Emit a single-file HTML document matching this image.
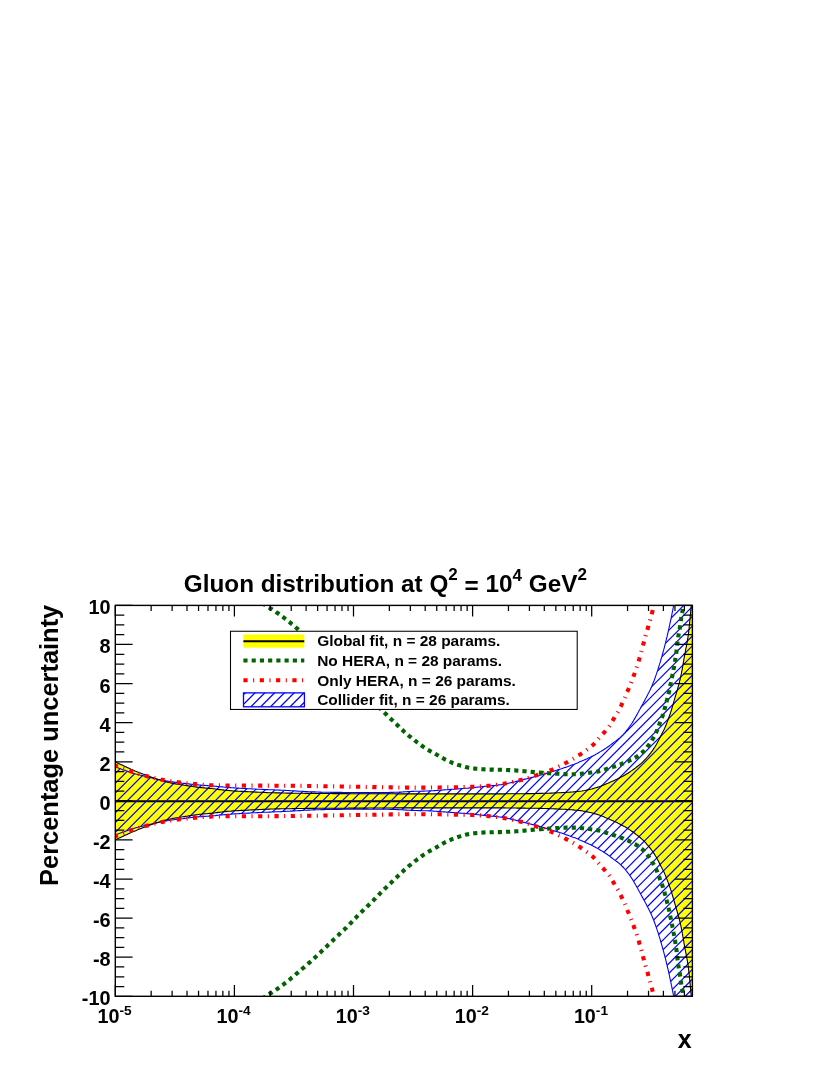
<!DOCTYPE html>
<html><head><meta charset="utf-8"><title>Gluon distribution</title>
<style>html,body{margin:0;padding:0;background:#fff}body{width:830px;height:1075px;position:relative;overflow:hidden;font-family:"Liberation Sans",sans-serif}</style></head>
<body>
<svg width="830" height="1075" viewBox="0 0 830 1075" style="position:absolute;left:0;top:0;will-change:transform">
<defs>
<clipPath id="fr"><rect x="115.3" y="605.4" width="577.1" height="390.9"/></clipPath>
<clipPath id="bl" clip-path="url(#fr)"><path d="M115.4,766.9 L116.7,767.4 L117.9,767.8 L119.2,768.3 L120.5,768.7 L121.7,769.2 L123.0,769.7 L124.3,770.1 L125.5,770.6 L126.8,771.0 L128.1,771.5 L129.3,772.0 L130.6,772.4 L131.9,772.8 L133.2,773.2 L134.4,773.6 L135.7,774.0 L137.0,774.3 L138.3,774.6 L139.7,775.0 L141.0,775.3 L142.3,775.6 L143.6,775.9 L144.9,776.2 L146.2,776.5 L147.5,776.8 L148.8,777.2 L150.1,777.5 L151.4,777.8 L152.8,778.1 L154.1,778.4 L155.4,778.7 L156.7,779.0 L158.0,779.3 L159.3,779.5 L160.6,779.8 L162.0,780.1 L163.3,780.4 L164.6,780.6 L165.9,780.9 L167.3,781.1 L168.6,781.3 L169.9,781.6 L171.2,781.8 L172.6,781.9 L173.9,782.1 L175.2,782.3 L176.6,782.4 L177.9,782.6 L179.3,782.7 L180.6,782.9 L181.9,783.1 L183.3,783.2 L184.6,783.4 L185.9,783.6 L187.3,783.8 L188.6,783.9 L189.9,784.1 L191.3,784.3 L192.6,784.4 L194.0,784.6 L195.3,784.7 L196.6,784.8 L198.0,784.9 L199.3,785.0 L200.7,785.1 L202.0,785.2 L203.3,785.3 L204.7,785.4 L206.0,785.5 L207.4,785.6 L208.7,785.7 L210.1,785.8 L211.4,785.9 L212.8,786.0 L214.1,786.1 L215.4,786.2 L216.8,786.4 L218.1,786.5 L219.4,786.6 L220.8,786.8 L222.1,786.9 L223.5,787.0 L224.8,787.2 L226.2,787.3 L227.5,787.4 L228.8,787.5 L230.2,787.6 L231.5,787.7 L232.9,787.8 L234.2,787.9 L235.6,788.0 L236.9,788.1 L238.2,788.1 L239.6,788.2 L240.9,788.3 L242.3,788.4 L243.6,788.5 L245.0,788.5 L246.3,788.6 L247.6,788.7 L249.0,788.7 L250.3,788.8 L251.7,788.9 L253.0,789.0 L254.4,789.0 L255.7,789.1 L257.1,789.2 L258.4,789.2 L259.7,789.3 L261.1,789.3 L262.4,789.4 L263.8,789.5 L265.1,789.5 L266.5,789.6 L267.8,789.6 L269.2,789.7 L270.5,789.7 L271.9,789.8 L273.2,789.8 L274.5,789.9 L275.9,790.0 L277.2,790.0 L278.6,790.1 L279.9,790.1 L281.3,790.2 L282.6,790.3 L284.0,790.3 L285.3,790.4 L286.6,790.5 L288.0,790.5 L289.3,790.6 L290.7,790.7 L292.0,790.7 L293.4,790.8 L294.7,790.9 L296.1,791.0 L297.4,791.1 L298.7,791.2 L300.1,791.2 L301.4,791.3 L302.8,791.4 L304.1,791.5 L305.5,791.6 L306.8,791.6 L308.2,791.7 L309.5,791.7 L310.8,791.8 L312.2,791.8 L313.5,791.9 L314.9,791.9 L316.2,792.0 L317.6,792.0 L318.9,792.1 L320.3,792.1 L321.6,792.2 L323.0,792.2 L324.3,792.2 L325.6,792.3 L327.0,792.3 L328.3,792.3 L329.7,792.3 L331.0,792.3 L332.4,792.4 L333.7,792.4 L335.1,792.4 L336.4,792.4 L337.8,792.4 L339.1,792.4 L340.5,792.4 L341.8,792.4 L343.1,792.5 L344.5,792.5 L345.8,792.5 L347.2,792.5 L348.5,792.5 L349.9,792.5 L351.2,792.5 L352.6,792.5 L353.9,792.5 L355.3,792.5 L356.6,792.5 L358.0,792.5 L359.3,792.5 L360.7,792.6 L362.0,792.6 L363.3,792.6 L364.7,792.6 L366.0,792.6 L367.4,792.6 L368.7,792.6 L370.1,792.6 L371.4,792.6 L372.8,792.6 L374.1,792.6 L375.5,792.6 L376.8,792.6 L378.2,792.6 L379.5,792.6 L380.8,792.6 L382.2,792.6 L383.5,792.6 L384.9,792.6 L386.2,792.5 L387.6,792.5 L388.9,792.5 L390.3,792.4 L391.6,792.4 L393.0,792.4 L394.3,792.3 L395.7,792.3 L397.0,792.2 L398.3,792.2 L399.7,792.1 L401.0,792.1 L402.4,792.0 L403.7,791.9 L405.1,791.8 L406.4,791.7 L407.8,791.6 L409.1,791.5 L410.4,791.5 L411.8,791.4 L413.1,791.4 L414.5,791.3 L415.8,791.3 L417.2,791.3 L418.5,791.2 L419.9,791.2 L421.2,791.2 L422.6,791.1 L423.9,791.1 L425.2,791.0 L426.6,791.0 L427.9,791.0 L429.3,790.9 L430.6,790.8 L432.0,790.8 L433.3,790.7 L434.7,790.6 L436.0,790.5 L437.3,790.4 L438.7,790.3 L440.0,790.2 L441.4,790.1 L442.7,790.0 L444.1,789.9 L445.4,789.8 L446.7,789.7 L448.1,789.6 L449.4,789.5 L450.8,789.4 L452.1,789.3 L453.5,789.2 L454.8,789.1 L456.1,789.0 L457.5,788.9 L458.8,788.8 L460.2,788.7 L461.5,788.6 L462.9,788.5 L464.2,788.4 L465.5,788.3 L466.9,788.2 L468.2,788.1 L469.6,787.9 L470.9,787.8 L472.2,787.7 L473.6,787.5 L474.9,787.4 L476.3,787.3 L477.6,787.1 L478.9,787.0 L480.3,786.8 L481.6,786.7 L482.9,786.5 L484.3,786.4 L485.6,786.2 L487.0,786.1 L488.3,786.0 L489.6,785.8 L491.0,785.7 L492.3,785.6 L493.7,785.5 L495.0,785.4 L496.4,785.2 L497.7,785.1 L499.0,784.9 L500.4,784.8 L501.7,784.6 L503.0,784.3 L504.3,784.1 L505.7,783.9 L507.0,783.6 L508.3,783.3 L509.6,783.0 L510.9,782.7 L512.2,782.4 L513.5,782.1 L514.9,781.8 L516.2,781.4 L517.5,781.1 L518.8,780.7 L520.1,780.4 L521.4,780.1 L522.7,779.7 L524.0,779.4 L525.3,779.1 L526.6,778.8 L527.9,778.4 L529.2,778.1 L530.5,777.8 L531.8,777.4 L533.1,777.1 L534.4,776.7 L535.7,776.4 L537.0,776.0 L538.3,775.7 L539.6,775.3 L540.9,774.9 L542.2,774.6 L543.5,774.2 L544.8,773.8 L546.1,773.4 L547.4,773.0 L548.7,772.7 L550.0,772.3 L551.3,771.9 L552.5,771.5 L553.8,771.1 L555.1,770.7 L556.4,770.3 L557.7,769.9 L559.0,769.5 L560.3,769.1 L561.5,768.7 L562.8,768.2 L564.1,767.8 L565.4,767.4 L566.6,766.9 L567.9,766.5 L569.2,766.0 L570.4,765.6 L571.7,765.1 L573.0,764.6 L574.2,764.2 L575.5,763.7 L576.7,763.2 L578.0,762.7 L579.2,762.1 L580.4,761.6 L581.7,761.1 L582.9,760.5 L584.1,760.0 L585.4,759.4 L586.6,758.9 L587.8,758.3 L589.0,757.7 L590.3,757.2 L591.5,756.6 L592.7,756.0 L593.9,755.4 L595.1,754.8 L596.3,754.1 L597.4,753.4 L598.6,752.7 L599.7,752.1 L600.9,751.4 L602.0,750.7 L603.2,750.0 L604.3,749.2 L605.5,748.5 L606.6,747.8 L607.7,747.0 L608.8,746.2 L609.9,745.4 L610.9,744.6 L612.0,743.8 L613.1,742.9 L614.2,742.1 L615.3,741.4 L616.3,740.6 L617.4,739.8 L618.5,738.9 L619.5,738.1 L620.5,737.2 L621.5,736.2 L622.4,735.3 L623.4,734.3 L624.3,733.3 L625.2,732.3 L626.0,731.3 L626.9,730.2 L627.7,729.2 L628.5,728.1 L629.3,727.0 L630.1,725.9 L630.9,724.8 L631.6,723.7 L632.4,722.6 L633.1,721.4 L633.7,720.3 L634.4,719.1 L635.1,717.9 L635.7,716.7 L636.4,715.6 L637.1,714.4 L637.7,713.2 L638.4,712.0 L639.0,710.8 L639.6,709.7 L640.3,708.5 L640.9,707.3 L641.6,706.1 L642.2,704.9 L642.9,703.7 L643.5,702.6 L644.2,701.4 L644.8,700.2 L645.4,699.0 L646.1,697.8 L646.7,696.6 L647.3,695.4 L647.9,694.2 L648.6,693.0 L649.2,691.8 L649.8,690.6 L650.4,689.4 L650.9,688.2 L651.5,687.0 L652.0,685.7 L652.5,684.5 L653.0,683.3 L653.5,682.0 L654.0,680.8 L654.5,679.5 L654.9,678.2 L655.4,677.0 L655.8,675.7 L656.3,674.4 L656.7,673.2 L657.1,671.9 L657.6,670.6 L658.0,669.3 L658.4,668.0 L658.8,666.7 L659.2,665.4 L659.6,664.2 L660.0,662.9 L660.4,661.6 L660.7,660.3 L661.1,659.0 L661.5,657.7 L661.9,656.4 L662.2,655.1 L662.6,653.8 L663.0,652.5 L663.3,651.2 L663.7,649.9 L664.0,648.6 L664.4,647.3 L664.7,646.0 L665.0,644.7 L665.4,643.4 L665.7,642.1 L666.0,640.8 L666.3,639.5 L666.6,638.2 L667.0,636.9 L667.3,635.5 L667.6,634.2 L667.9,632.9 L668.2,631.6 L668.5,630.3 L668.8,629.0 L669.1,627.7 L669.4,626.4 L669.7,625.0 L669.9,623.7 L670.2,622.4 L670.5,621.1 L670.8,619.8 L671.1,618.5 L671.3,617.1 L671.6,615.8 L671.9,614.5 L672.1,613.2 L672.4,611.9 L672.7,610.5 L672.9,609.2 L673.2,607.9 L673.4,606.6 L673.7,605.3 L674.0,603.9 L674.2,602.6 L674.5,601.3 L674.7,600.0 L675.0,598.6 L675.2,597.3 L675.5,596.0 L705.0,590.0 L705.0,1012.0 L675.5,1005.8 L675.2,1004.5 L675.0,1003.2 L674.7,1001.8 L674.5,1000.5 L674.2,999.2 L674.0,997.9 L673.7,996.5 L673.4,995.2 L673.2,993.9 L672.9,992.6 L672.7,991.3 L672.4,989.9 L672.1,988.6 L671.9,987.3 L671.6,986.0 L671.3,984.7 L671.1,983.3 L670.8,982.0 L670.5,980.7 L670.2,979.4 L669.9,978.1 L669.7,976.8 L669.4,975.4 L669.1,974.1 L668.8,972.8 L668.5,971.5 L668.2,970.2 L667.9,968.9 L667.6,967.6 L667.3,966.3 L667.0,964.9 L666.6,963.6 L666.3,962.3 L666.0,961.0 L665.7,959.7 L665.4,958.4 L665.0,957.1 L664.7,955.8 L664.4,954.5 L664.0,953.2 L663.7,951.9 L663.3,950.6 L663.0,949.3 L662.6,948.0 L662.2,946.7 L661.9,945.4 L661.5,944.1 L661.1,942.8 L660.7,941.5 L660.4,940.2 L660.0,938.9 L659.6,937.6 L659.2,936.4 L658.8,935.1 L658.4,933.8 L658.0,932.5 L657.6,931.2 L657.1,929.9 L656.7,928.6 L656.3,927.4 L655.8,926.1 L655.4,924.8 L654.9,923.6 L654.5,922.3 L654.0,921.0 L653.5,919.8 L653.0,918.5 L652.5,917.3 L652.0,916.1 L651.5,914.8 L650.9,913.6 L650.4,912.4 L649.8,911.2 L649.2,910.0 L648.6,908.8 L647.9,907.6 L647.3,906.4 L646.7,905.2 L646.1,904.0 L645.4,902.8 L644.8,901.6 L644.2,900.4 L643.5,899.2 L642.9,898.1 L642.2,896.9 L641.6,895.7 L640.9,894.5 L640.3,893.3 L639.6,892.1 L639.0,891.0 L638.4,889.8 L637.7,888.6 L637.1,887.4 L636.4,886.2 L635.7,885.1 L635.1,883.9 L634.4,882.7 L633.7,881.5 L633.1,880.4 L632.4,879.2 L631.6,878.1 L630.9,877.0 L630.1,875.9 L629.3,874.8 L628.5,873.7 L627.7,872.6 L626.9,871.6 L626.0,870.5 L625.2,869.5 L624.3,868.5 L623.4,867.5 L622.4,866.5 L621.5,865.6 L620.5,864.6 L619.5,863.7 L618.5,862.9 L617.4,862.0 L616.3,861.2 L615.3,860.4 L614.2,859.7 L613.1,858.9 L612.0,858.0 L610.9,857.2 L609.9,856.4 L608.8,855.6 L607.7,854.8 L606.6,854.0 L605.5,853.3 L604.3,852.6 L603.2,851.8 L602.0,851.1 L600.9,850.4 L599.7,849.7 L598.6,849.1 L597.4,848.4 L596.3,847.7 L595.1,847.0 L593.9,846.4 L592.7,845.8 L591.5,845.2 L590.3,844.6 L589.0,844.1 L587.8,843.5 L586.6,842.9 L585.4,842.4 L584.1,841.8 L582.9,841.3 L581.7,840.7 L580.4,840.2 L579.2,839.7 L578.0,839.1 L576.7,838.6 L575.5,838.1 L574.2,837.6 L573.0,837.2 L571.7,836.7 L570.4,836.2 L569.2,835.8 L567.9,835.3 L566.6,834.9 L565.4,834.4 L564.1,834.0 L562.8,833.6 L561.5,833.1 L560.3,832.7 L559.0,832.3 L557.7,831.9 L556.4,831.5 L555.1,831.1 L553.8,830.7 L552.5,830.3 L551.3,829.9 L550.0,829.5 L548.7,829.1 L547.4,828.8 L546.1,828.4 L544.8,828.0 L543.5,827.6 L542.2,827.2 L540.9,826.9 L539.6,826.5 L538.3,826.1 L537.0,825.8 L535.7,825.4 L534.4,825.1 L533.1,824.7 L531.8,824.4 L530.5,824.0 L529.2,823.7 L527.9,823.4 L526.6,823.0 L525.3,822.7 L524.0,822.4 L522.7,822.1 L521.4,821.7 L520.1,821.4 L518.8,821.1 L517.5,820.7 L516.2,820.4 L514.9,820.0 L513.5,819.7 L512.2,819.4 L510.9,819.1 L509.6,818.8 L508.3,818.5 L507.0,818.2 L505.7,817.9 L504.3,817.7 L503.0,817.5 L501.7,817.2 L500.4,817.0 L499.0,816.9 L497.7,816.7 L496.4,816.6 L495.0,816.4 L493.7,816.3 L492.3,816.2 L491.0,816.1 L489.6,816.0 L488.3,815.8 L487.0,815.7 L485.6,815.6 L484.3,815.4 L482.9,815.3 L481.6,815.1 L480.3,815.0 L478.9,814.8 L477.6,814.7 L476.3,814.5 L474.9,814.4 L473.6,814.3 L472.2,814.1 L470.9,814.0 L469.6,813.9 L468.2,813.7 L466.9,813.6 L465.5,813.5 L464.2,813.4 L462.9,813.3 L461.5,813.2 L460.2,813.1 L458.8,813.0 L457.5,812.9 L456.1,812.8 L454.8,812.7 L453.5,812.6 L452.1,812.5 L450.8,812.4 L449.4,812.3 L448.1,812.2 L446.7,812.1 L445.4,812.0 L444.1,811.9 L442.7,811.8 L441.4,811.7 L440.0,811.6 L438.7,811.5 L437.3,811.4 L436.0,811.3 L434.7,811.2 L433.3,811.1 L432.0,811.0 L430.6,811.0 L429.3,810.9 L427.9,810.8 L426.6,810.8 L425.2,810.8 L423.9,810.7 L422.6,810.7 L421.2,810.6 L419.9,810.6 L418.5,810.6 L417.2,810.5 L415.8,810.5 L414.5,810.5 L413.1,810.4 L411.8,810.4 L410.4,810.3 L409.1,810.3 L407.8,810.2 L406.4,810.1 L405.1,810.0 L403.7,809.9 L402.4,809.8 L401.0,809.7 L399.7,809.7 L398.3,809.6 L397.0,809.6 L395.7,809.5 L394.3,809.5 L393.0,809.4 L391.6,809.4 L390.3,809.4 L388.9,809.3 L387.6,809.3 L386.2,809.3 L384.9,809.2 L383.5,809.2 L382.2,809.2 L380.8,809.2 L379.5,809.2 L378.2,809.2 L376.8,809.2 L375.5,809.2 L374.1,809.2 L372.8,809.2 L371.4,809.2 L370.1,809.2 L368.7,809.2 L367.4,809.2 L366.0,809.2 L364.7,809.2 L363.3,809.2 L362.0,809.2 L360.7,809.2 L359.3,809.3 L358.0,809.3 L356.6,809.3 L355.3,809.3 L353.9,809.3 L352.6,809.3 L351.2,809.3 L349.9,809.3 L348.5,809.3 L347.2,809.3 L345.8,809.3 L344.5,809.3 L343.1,809.3 L341.8,809.4 L340.5,809.4 L339.1,809.4 L337.8,809.4 L336.4,809.4 L335.1,809.4 L333.7,809.4 L332.4,809.4 L331.0,809.5 L329.7,809.5 L328.3,809.5 L327.0,809.5 L325.6,809.5 L324.3,809.6 L323.0,809.6 L321.6,809.6 L320.3,809.7 L318.9,809.7 L317.6,809.8 L316.2,809.8 L314.9,809.9 L313.5,809.9 L312.2,810.0 L310.8,810.0 L309.5,810.1 L308.2,810.1 L306.8,810.2 L305.5,810.2 L304.1,810.3 L302.8,810.4 L301.4,810.5 L300.1,810.6 L298.7,810.6 L297.4,810.7 L296.1,810.8 L294.7,810.9 L293.4,811.0 L292.0,811.1 L290.7,811.1 L289.3,811.2 L288.0,811.3 L286.6,811.3 L285.3,811.4 L284.0,811.5 L282.6,811.5 L281.3,811.6 L279.9,811.7 L278.6,811.7 L277.2,811.8 L275.9,811.8 L274.5,811.9 L273.2,812.0 L271.9,812.0 L270.5,812.1 L269.2,812.1 L267.8,812.2 L266.5,812.2 L265.1,812.3 L263.8,812.3 L262.4,812.4 L261.1,812.5 L259.7,812.5 L258.4,812.6 L257.1,812.6 L255.7,812.7 L254.4,812.8 L253.0,812.8 L251.7,812.9 L250.3,813.0 L249.0,813.1 L247.6,813.1 L246.3,813.2 L245.0,813.3 L243.6,813.3 L242.3,813.4 L240.9,813.5 L239.6,813.6 L238.2,813.7 L236.9,813.7 L235.6,813.8 L234.2,813.9 L232.9,814.0 L231.5,814.1 L230.2,814.2 L228.8,814.3 L227.5,814.4 L226.2,814.5 L224.8,814.6 L223.5,814.8 L222.1,814.9 L220.8,815.0 L219.4,815.2 L218.1,815.3 L216.8,815.4 L215.4,815.6 L214.1,815.7 L212.8,815.8 L211.4,815.9 L210.1,816.0 L208.7,816.1 L207.4,816.2 L206.0,816.3 L204.7,816.4 L203.3,816.5 L202.0,816.6 L200.7,816.7 L199.3,816.8 L198.0,816.9 L196.6,817.0 L195.3,817.1 L194.0,817.2 L192.6,817.4 L191.3,817.5 L189.9,817.7 L188.6,817.9 L187.3,818.0 L185.9,818.2 L184.6,818.4 L183.3,818.6 L181.9,818.7 L180.6,818.9 L179.3,819.1 L177.9,819.2 L176.6,819.4 L175.2,819.5 L173.9,819.7 L172.6,819.9 L171.2,820.0 L169.9,820.2 L168.6,820.5 L167.3,820.7 L165.9,820.9 L164.6,821.2 L163.3,821.4 L162.0,821.7 L160.6,822.0 L159.3,822.3 L158.0,822.5 L156.7,822.8 L155.4,823.1 L154.1,823.4 L152.8,823.7 L151.4,824.0 L150.1,824.3 L148.8,824.6 L147.5,825.0 L146.2,825.3 L144.9,825.6 L143.6,825.9 L142.3,826.2 L141.0,826.5 L139.7,826.8 L138.3,827.2 L137.0,827.5 L135.7,827.8 L134.4,828.2 L133.2,828.6 L131.9,829.0 L130.6,829.4 L129.3,829.8 L128.1,830.3 L126.8,830.8 L125.5,831.2 L124.3,831.7 L123.0,832.1 L121.7,832.6 L120.5,833.1 L119.2,833.5 L117.9,834.0 L116.7,834.4 L115.4,834.9Z"/></clipPath>
<clipPath id="lg"><rect x="243.4" y="692.8" width="60.9" height="13.9"/></clipPath>
</defs>
<g clip-path="url(#fr)">
<path d="M115.4,762.0 L116.7,762.6 L118.0,763.2 L119.3,763.8 L120.6,764.4 L121.9,765.0 L123.2,765.6 L124.5,766.2 L125.8,766.8 L127.1,767.4 L128.4,768.0 L129.7,768.6 L131.0,769.2 L132.3,769.7 L133.6,770.3 L135.0,770.9 L136.3,771.4 L137.6,772.0 L138.9,772.5 L140.3,773.0 L141.6,773.6 L142.9,774.1 L144.3,774.6 L145.6,775.1 L146.9,775.6 L148.3,776.1 L149.6,776.6 L151.0,777.1 L152.3,777.6 L153.7,778.0 L155.0,778.5 L156.4,778.9 L157.8,779.4 L159.1,779.8 L160.5,780.2 L161.9,780.6 L163.2,781.0 L164.6,781.4 L166.0,781.8 L167.4,782.1 L168.8,782.5 L170.2,782.8 L171.6,783.1 L173.0,783.4 L174.4,783.6 L175.8,783.9 L177.2,784.1 L178.6,784.3 L180.0,784.5 L181.5,784.8 L182.9,785.0 L184.3,785.2 L185.7,785.4 L187.1,785.6 L188.5,785.9 L189.9,786.1 L191.4,786.3 L192.8,786.5 L194.2,786.7 L195.6,786.9 L197.0,787.1 L198.4,787.3 L199.9,787.5 L201.3,787.6 L202.7,787.8 L204.1,787.9 L205.6,788.0 L207.0,788.1 L208.4,788.3 L209.8,788.4 L211.3,788.5 L212.7,788.7 L214.1,788.8 L215.5,789.0 L217.0,789.2 L218.4,789.4 L219.8,789.6 L221.2,789.8 L222.6,789.9 L224.1,790.1 L225.5,790.2 L226.9,790.4 L228.3,790.5 L229.8,790.6 L231.2,790.7 L232.6,790.9 L234.0,791.0 L235.5,791.1 L236.9,791.1 L238.3,791.2 L239.8,791.3 L241.2,791.4 L242.6,791.4 L244.0,791.5 L245.5,791.6 L246.9,791.6 L248.3,791.7 L249.8,791.8 L251.2,791.9 L252.6,791.9 L254.1,792.0 L255.5,792.1 L256.9,792.1 L258.3,792.2 L259.8,792.3 L261.2,792.3 L262.6,792.4 L264.1,792.5 L265.5,792.5 L266.9,792.6 L268.4,792.7 L269.8,792.7 L271.2,792.8 L272.6,792.8 L274.1,792.8 L275.5,792.9 L276.9,792.9 L278.4,792.9 L279.8,792.9 L281.2,793.0 L282.7,793.0 L284.1,793.0 L285.5,793.0 L287.0,793.1 L288.4,793.1 L289.8,793.1 L291.3,793.1 L292.7,793.2 L294.1,793.2 L295.6,793.2 L297.0,793.3 L298.4,793.3 L299.8,793.3 L301.3,793.3 L302.7,793.3 L304.1,793.3 L305.6,793.4 L307.0,793.4 L308.4,793.4 L309.9,793.4 L311.3,793.4 L312.7,793.4 L314.2,793.4 L315.6,793.4 L317.0,793.5 L318.5,793.5 L319.9,793.5 L321.3,793.5 L322.7,793.5 L324.2,793.5 L325.6,793.5 L327.0,793.5 L328.5,793.5 L329.9,793.5 L331.3,793.5 L332.8,793.6 L334.2,793.6 L335.6,793.6 L337.1,793.6 L338.5,793.6 L339.9,793.6 L341.4,793.6 L342.8,793.6 L344.2,793.6 L345.7,793.6 L347.1,793.6 L348.5,793.7 L349.9,793.7 L351.4,793.7 L352.8,793.7 L354.2,793.7 L355.7,793.7 L357.1,793.7 L358.5,793.7 L360.0,793.7 L361.4,793.7 L362.8,793.7 L364.3,793.7 L365.7,793.7 L367.1,793.7 L368.6,793.8 L370.0,793.8 L371.4,793.8 L372.9,793.8 L374.3,793.8 L375.7,793.8 L377.1,793.8 L378.6,793.8 L380.0,793.8 L381.4,793.8 L382.9,793.8 L384.3,793.8 L385.7,793.8 L387.2,793.8 L388.6,793.8 L390.0,793.8 L391.5,793.8 L392.9,793.8 L394.3,793.8 L395.8,793.9 L397.2,793.9 L398.6,793.9 L400.1,793.9 L401.5,793.9 L402.9,793.9 L404.3,793.9 L405.8,793.9 L407.2,793.9 L408.6,793.9 L410.1,793.9 L411.5,793.9 L412.9,793.9 L414.4,793.9 L415.8,793.9 L417.2,793.9 L418.7,793.9 L420.1,793.9 L421.5,793.9 L423.0,793.9 L424.4,793.9 L425.8,793.9 L427.3,793.9 L428.7,793.9 L430.1,793.9 L431.5,793.9 L433.0,793.9 L434.4,793.9 L435.8,793.9 L437.3,793.9 L438.7,793.9 L440.1,793.9 L441.6,793.9 L443.0,793.9 L444.4,793.9 L445.9,793.9 L447.3,793.9 L448.7,793.9 L450.2,793.9 L451.6,793.9 L453.0,793.9 L454.5,793.9 L455.9,793.9 L457.3,793.9 L458.7,793.9 L460.2,793.9 L461.6,793.9 L463.0,793.9 L464.5,793.9 L465.9,793.9 L467.3,793.9 L468.8,793.9 L470.2,793.9 L471.6,793.9 L473.1,793.9 L474.5,793.9 L475.9,793.9 L477.4,793.9 L478.8,793.9 L480.2,793.9 L481.7,793.9 L483.1,793.9 L484.5,793.9 L485.9,793.9 L487.4,793.9 L488.8,793.9 L490.2,793.9 L491.7,793.9 L493.1,793.9 L494.5,793.9 L496.0,793.9 L497.4,793.9 L498.8,793.9 L500.3,793.9 L501.7,793.9 L503.1,793.9 L504.6,793.9 L506.0,793.8 L507.4,793.8 L508.9,793.8 L510.3,793.8 L511.7,793.8 L513.1,793.8 L514.6,793.8 L516.0,793.8 L517.4,793.7 L518.9,793.7 L520.3,793.7 L521.7,793.7 L523.2,793.7 L524.6,793.7 L526.0,793.6 L527.5,793.6 L528.9,793.6 L530.3,793.6 L531.8,793.6 L533.2,793.5 L534.6,793.5 L536.0,793.5 L537.5,793.5 L538.9,793.4 L540.3,793.4 L541.8,793.4 L543.2,793.3 L544.6,793.3 L546.1,793.3 L547.5,793.2 L548.9,793.2 L550.4,793.1 L551.8,793.1 L553.2,793.0 L554.7,792.9 L556.1,792.9 L557.5,792.8 L558.9,792.7 L560.4,792.7 L561.8,792.6 L563.2,792.5 L564.7,792.5 L566.1,792.4 L567.5,792.3 L569.0,792.2 L570.4,792.1 L571.8,792.0 L573.2,791.9 L574.7,791.7 L576.1,791.6 L577.5,791.5 L578.9,791.3 L580.3,791.2 L581.8,791.0 L583.2,790.7 L584.6,790.5 L586.0,790.2 L587.4,789.9 L588.8,789.6 L590.2,789.3 L591.6,789.0 L593.0,788.6 L594.3,788.2 L595.7,787.8 L597.1,787.4 L598.5,787.0 L599.8,786.6 L601.2,786.1 L602.5,785.5 L603.8,785.0 L605.1,784.4 L606.5,783.8 L607.8,783.3 L609.1,782.7 L610.4,782.1 L611.7,781.6 L613.0,781.0 L614.3,780.4 L615.6,779.8 L616.9,779.2 L618.2,778.5 L619.5,777.9 L620.8,777.2 L622.0,776.6 L623.3,775.9 L624.5,775.2 L625.8,774.5 L627.0,773.7 L628.2,773.0 L629.4,772.2 L630.6,771.4 L631.8,770.6 L633.0,769.8 L634.1,769.0 L635.3,768.1 L636.4,767.2 L637.6,766.3 L638.7,765.4 L639.8,764.5 L640.9,763.6 L641.9,762.6 L643.0,761.6 L644.0,760.6 L645.0,759.6 L646.0,758.6 L646.9,757.5 L647.9,756.4 L648.8,755.3 L649.7,754.2 L650.6,753.1 L651.4,751.9 L652.3,750.8 L653.1,749.6 L653.9,748.4 L654.7,747.2 L655.4,746.0 L656.2,744.8 L656.9,743.5 L657.5,742.3 L658.2,741.0 L658.9,739.7 L659.5,738.4 L660.2,737.2 L660.8,735.9 L661.5,734.6 L662.1,733.3 L662.8,732.1 L663.4,730.8 L664.1,729.5 L664.7,728.2 L665.2,726.9 L665.8,725.6 L666.3,724.3 L666.8,722.9 L667.3,721.6 L667.9,720.2 L668.3,718.9 L668.8,717.5 L669.3,716.2 L669.8,714.8 L670.3,713.5 L670.7,712.1 L671.2,710.8 L671.6,709.4 L672.0,708.0 L672.4,706.7 L672.8,705.3 L673.2,703.9 L673.6,702.5 L674.0,701.2 L674.4,699.8 L674.8,698.4 L675.2,697.0 L675.6,695.7 L676.0,694.3 L676.4,692.9 L676.8,691.5 L677.2,690.2 L677.6,688.8 L678.0,687.4 L678.4,686.0 L678.8,684.6 L679.1,683.3 L679.5,681.9 L679.8,680.5 L680.2,679.1 L680.5,677.7 L680.8,676.3 L681.1,674.9 L681.4,673.5 L681.6,672.1 L681.9,670.7 L682.2,669.3 L682.4,667.9 L682.7,666.5 L682.9,665.1 L683.2,663.7 L683.4,662.2 L683.7,660.8 L683.9,659.4 L684.1,658.0 L684.4,656.6 L684.6,655.2 L684.9,653.8 L685.2,652.4 L685.4,651.0 L685.7,649.6 L686.0,648.2 L686.3,646.7 L686.5,645.3 L686.8,643.9 L687.1,642.5 L687.3,641.1 L687.5,639.7 L687.8,638.3 L688.0,636.9 L688.2,635.5 L688.4,634.0 L688.6,632.6 L688.7,631.2 L688.9,629.8 L689.1,628.4 L689.2,626.9 L689.4,625.5 L689.5,624.1 L689.6,622.7 L689.8,621.2 L689.9,619.8 L690.1,618.4 L690.2,617.0 L690.3,615.5 L690.4,614.1 L690.6,612.7 L690.7,611.3 L690.8,609.8 L691.0,608.4 L691.1,607.0 L691.2,605.6 L691.4,604.1 L691.5,602.7 L691.6,601.3 L691.7,599.9 L691.9,598.4 L692.0,597.0 L705.0,590.0 L705.0,1012.0 L692.0,1004.8 L691.9,1003.4 L691.7,1001.9 L691.6,1000.5 L691.5,999.1 L691.4,997.7 L691.2,996.2 L691.1,994.8 L691.0,993.4 L690.8,992.0 L690.7,990.5 L690.6,989.1 L690.4,987.7 L690.3,986.3 L690.2,984.8 L690.1,983.4 L689.9,982.0 L689.8,980.6 L689.6,979.1 L689.5,977.7 L689.4,976.3 L689.2,974.9 L689.1,973.4 L688.9,972.0 L688.7,970.6 L688.6,969.2 L688.4,967.8 L688.2,966.3 L688.0,964.9 L687.8,963.5 L687.5,962.1 L687.3,960.7 L687.1,959.3 L686.8,957.9 L686.5,956.5 L686.3,955.1 L686.0,953.6 L685.7,952.2 L685.4,950.8 L685.2,949.4 L684.9,948.0 L684.6,946.6 L684.4,945.2 L684.1,943.8 L683.9,942.4 L683.7,941.0 L683.4,939.6 L683.2,938.1 L682.9,936.7 L682.7,935.3 L682.4,933.9 L682.2,932.5 L681.9,931.1 L681.6,929.7 L681.4,928.3 L681.1,926.9 L680.8,925.5 L680.5,924.1 L680.2,922.7 L679.8,921.3 L679.5,919.9 L679.1,918.5 L678.8,917.2 L678.4,915.8 L678.0,914.4 L677.6,913.0 L677.2,911.6 L676.8,910.3 L676.4,908.9 L676.0,907.5 L675.6,906.1 L675.2,904.8 L674.8,903.4 L674.4,902.0 L674.0,900.6 L673.6,899.3 L673.2,897.9 L672.8,896.5 L672.4,895.1 L672.0,893.8 L671.6,892.4 L671.2,891.0 L670.7,889.7 L670.3,888.3 L669.8,887.0 L669.3,885.6 L668.8,884.3 L668.3,882.9 L667.9,881.6 L667.3,880.2 L666.8,878.9 L666.3,877.5 L665.8,876.2 L665.2,874.9 L664.7,873.6 L664.1,872.3 L663.4,871.0 L662.8,869.7 L662.1,868.5 L661.5,867.2 L660.8,865.9 L660.2,864.6 L659.5,863.4 L658.9,862.1 L658.2,860.8 L657.5,859.5 L656.9,858.3 L656.2,857.0 L655.4,855.8 L654.7,854.6 L653.9,853.4 L653.1,852.2 L652.3,851.0 L651.4,849.9 L650.6,848.7 L649.7,847.6 L648.8,846.5 L647.9,845.4 L646.9,844.3 L646.0,843.2 L645.0,842.2 L644.0,841.2 L643.0,840.2 L641.9,839.2 L640.9,838.2 L639.8,837.3 L638.7,836.4 L637.6,835.5 L636.4,834.6 L635.3,833.7 L634.1,832.8 L633.0,832.0 L631.8,831.2 L630.6,830.4 L629.4,829.6 L628.2,828.8 L627.0,828.1 L625.8,827.3 L624.5,826.6 L623.3,825.9 L622.0,825.2 L620.8,824.6 L619.5,823.9 L618.2,823.3 L616.9,822.6 L615.6,822.0 L614.3,821.4 L613.0,820.8 L611.7,820.2 L610.4,819.7 L609.1,819.1 L607.8,818.5 L606.5,818.0 L605.1,817.4 L603.8,816.8 L602.5,816.3 L601.2,815.7 L599.8,815.2 L598.5,814.8 L597.1,814.4 L595.7,814.0 L594.3,813.6 L593.0,813.2 L591.6,812.8 L590.2,812.5 L588.8,812.2 L587.4,811.9 L586.0,811.6 L584.6,811.3 L583.2,811.1 L581.8,810.8 L580.3,810.6 L578.9,810.5 L577.5,810.3 L576.1,810.2 L574.7,810.1 L573.2,809.9 L571.8,809.8 L570.4,809.7 L569.0,809.6 L567.5,809.5 L566.1,809.4 L564.7,809.3 L563.2,809.3 L561.8,809.2 L560.4,809.1 L558.9,809.1 L557.5,809.0 L556.1,808.9 L554.7,808.9 L553.2,808.8 L551.8,808.7 L550.4,808.7 L548.9,808.6 L547.5,808.6 L546.1,808.5 L544.6,808.5 L543.2,808.5 L541.8,808.4 L540.3,808.4 L538.9,808.4 L537.5,808.3 L536.0,808.3 L534.6,808.3 L533.2,808.3 L531.8,808.2 L530.3,808.2 L528.9,808.2 L527.5,808.2 L526.0,808.2 L524.6,808.1 L523.2,808.1 L521.7,808.1 L520.3,808.1 L518.9,808.1 L517.4,808.1 L516.0,808.0 L514.6,808.0 L513.1,808.0 L511.7,808.0 L510.3,808.0 L508.9,808.0 L507.4,808.0 L506.0,808.0 L504.6,807.9 L503.1,807.9 L501.7,807.9 L500.3,807.9 L498.8,807.9 L497.4,807.9 L496.0,807.9 L494.5,807.9 L493.1,807.9 L491.7,807.9 L490.2,807.9 L488.8,807.9 L487.4,807.9 L485.9,807.9 L484.5,807.9 L483.1,807.9 L481.7,807.9 L480.2,807.9 L478.8,807.9 L477.4,807.9 L475.9,807.9 L474.5,807.9 L473.1,807.9 L471.6,807.9 L470.2,807.9 L468.8,807.9 L467.3,807.9 L465.9,807.9 L464.5,807.9 L463.0,807.9 L461.6,807.9 L460.2,807.9 L458.7,807.9 L457.3,807.9 L455.9,807.9 L454.5,807.9 L453.0,807.9 L451.6,807.9 L450.2,807.9 L448.7,807.9 L447.3,807.9 L445.9,807.9 L444.4,807.9 L443.0,807.9 L441.6,807.9 L440.1,807.9 L438.7,807.9 L437.3,807.9 L435.8,807.9 L434.4,807.9 L433.0,807.9 L431.5,807.9 L430.1,807.9 L428.7,807.9 L427.3,807.9 L425.8,807.9 L424.4,807.9 L423.0,807.9 L421.5,807.9 L420.1,807.9 L418.7,807.9 L417.2,807.9 L415.8,807.9 L414.4,807.9 L412.9,807.9 L411.5,807.9 L410.1,807.9 L408.6,807.9 L407.2,807.9 L405.8,807.9 L404.3,807.9 L402.9,807.9 L401.5,807.9 L400.1,807.9 L398.6,807.9 L397.2,807.9 L395.8,807.9 L394.3,808.0 L392.9,808.0 L391.5,808.0 L390.0,808.0 L388.6,808.0 L387.2,808.0 L385.7,808.0 L384.3,808.0 L382.9,808.0 L381.4,808.0 L380.0,808.0 L378.6,808.0 L377.1,808.0 L375.7,808.0 L374.3,808.0 L372.9,808.0 L371.4,808.0 L370.0,808.0 L368.6,808.0 L367.1,808.1 L365.7,808.1 L364.3,808.1 L362.8,808.1 L361.4,808.1 L360.0,808.1 L358.5,808.1 L357.1,808.1 L355.7,808.1 L354.2,808.1 L352.8,808.1 L351.4,808.1 L349.9,808.1 L348.5,808.1 L347.1,808.2 L345.7,808.2 L344.2,808.2 L342.8,808.2 L341.4,808.2 L339.9,808.2 L338.5,808.2 L337.1,808.2 L335.6,808.2 L334.2,808.2 L332.8,808.2 L331.3,808.3 L329.9,808.3 L328.5,808.3 L327.0,808.3 L325.6,808.3 L324.2,808.3 L322.7,808.3 L321.3,808.3 L319.9,808.3 L318.5,808.3 L317.0,808.3 L315.6,808.4 L314.2,808.4 L312.7,808.4 L311.3,808.4 L309.9,808.4 L308.4,808.4 L307.0,808.4 L305.6,808.4 L304.1,808.5 L302.7,808.5 L301.3,808.5 L299.8,808.5 L298.4,808.5 L297.0,808.5 L295.6,808.6 L294.1,808.6 L292.7,808.6 L291.3,808.7 L289.8,808.7 L288.4,808.7 L287.0,808.7 L285.5,808.8 L284.1,808.8 L282.7,808.8 L281.2,808.8 L279.8,808.9 L278.4,808.9 L276.9,808.9 L275.5,808.9 L274.1,809.0 L272.6,809.0 L271.2,809.0 L269.8,809.1 L268.4,809.1 L266.9,809.2 L265.5,809.3 L264.1,809.3 L262.6,809.4 L261.2,809.5 L259.8,809.5 L258.3,809.6 L256.9,809.7 L255.5,809.7 L254.1,809.8 L252.6,809.9 L251.2,809.9 L249.8,810.0 L248.3,810.1 L246.9,810.2 L245.5,810.2 L244.0,810.3 L242.6,810.4 L241.2,810.4 L239.8,810.5 L238.3,810.6 L236.9,810.7 L235.5,810.7 L234.0,810.8 L232.6,810.9 L231.2,811.1 L229.8,811.2 L228.3,811.3 L226.9,811.4 L225.5,811.6 L224.1,811.7 L222.6,811.9 L221.2,812.0 L219.8,812.2 L218.4,812.4 L217.0,812.6 L215.5,812.8 L214.1,813.0 L212.7,813.1 L211.3,813.3 L209.8,813.4 L208.4,813.5 L207.0,813.7 L205.6,813.8 L204.1,813.9 L202.7,814.0 L201.3,814.2 L199.9,814.3 L198.4,814.5 L197.0,814.7 L195.6,814.9 L194.2,815.1 L192.8,815.3 L191.4,815.5 L189.9,815.7 L188.5,815.9 L187.1,816.2 L185.7,816.4 L184.3,816.6 L182.9,816.8 L181.5,817.0 L180.0,817.3 L178.6,817.5 L177.2,817.7 L175.8,817.9 L174.4,818.2 L173.0,818.4 L171.6,818.7 L170.2,819.0 L168.8,819.3 L167.4,819.7 L166.0,820.0 L164.6,820.4 L163.2,820.8 L161.9,821.2 L160.5,821.6 L159.1,822.0 L157.8,822.4 L156.4,822.9 L155.0,823.3 L153.7,823.8 L152.3,824.2 L151.0,824.7 L149.6,825.2 L148.3,825.7 L146.9,826.2 L145.6,826.7 L144.3,827.2 L142.9,827.7 L141.6,828.2 L140.3,828.8 L138.9,829.3 L137.6,829.8 L136.3,830.4 L135.0,830.9 L133.6,831.5 L132.3,832.1 L131.0,832.6 L129.7,833.2 L128.4,833.8 L127.1,834.4 L125.8,835.0 L124.5,835.6 L123.2,836.2 L121.9,836.8 L120.6,837.4 L119.3,838.0 L118.0,838.6 L116.7,839.2 L115.4,839.8Z" fill="#ffff00" stroke="none"/>
<line x1="115.3" x2="692.4" y1="801.25" y2="801.25" stroke="#000" stroke-width="1.9"/>
<g clip-path="url(#bl)"><path d="M115.30,587.17 L692.35,8.39 M115.30,596.97 L692.35,18.19 M115.30,606.78 L692.35,28.00 M115.30,616.59 L692.35,37.81 M115.30,626.39 L692.35,47.61 M115.30,636.20 L692.35,57.42 M115.30,646.01 L692.35,67.22 M115.30,655.81 L692.35,77.03 M115.30,665.62 L692.35,86.84 M115.30,675.42 L692.35,96.64 M115.30,685.23 L692.35,106.45 M115.30,695.04 L692.35,116.26 M115.30,704.84 L692.35,126.06 M115.30,714.65 L692.35,135.87 M115.30,724.46 L692.35,145.67 M115.30,734.26 L692.35,155.48 M115.30,744.07 L692.35,165.29 M115.30,753.88 L692.35,175.09 M115.30,763.68 L692.35,184.90 M115.30,773.49 L692.35,194.71 M115.30,783.29 L692.35,204.51 M115.30,793.10 L692.35,214.32 M115.30,802.91 L692.35,224.13 M115.30,812.71 L692.35,233.93 M115.30,822.52 L692.35,243.74 M115.30,832.33 L692.35,253.54 M115.30,842.13 L692.35,263.35 M115.30,851.94 L692.35,273.16 M115.30,861.74 L692.35,282.96 M115.30,871.55 L692.35,292.77 M115.30,881.36 L692.35,302.58 M115.30,891.16 L692.35,312.38 M115.30,900.97 L692.35,322.19 M115.30,910.78 L692.35,332.00 M115.30,920.58 L692.35,341.80 M115.30,930.39 L692.35,351.61 M115.30,940.20 L692.35,361.41 M115.30,950.00 L692.35,371.22 M115.30,959.81 L692.35,381.03 M115.30,969.61 L692.35,390.83 M115.30,979.42 L692.35,400.64 M115.30,989.23 L692.35,410.45 M115.30,999.03 L692.35,420.25 M115.30,1008.84 L692.35,430.06 M115.30,1018.65 L692.35,439.86 M115.30,1028.45 L692.35,449.67 M115.30,1038.26 L692.35,459.48 M115.30,1048.06 L692.35,469.28 M115.30,1057.87 L692.35,479.09 M115.30,1067.68 L692.35,488.90 M115.30,1077.48 L692.35,498.70 M115.30,1087.29 L692.35,508.51 M115.30,1097.10 L692.35,518.32 M115.30,1106.90 L692.35,528.12 M115.30,1116.71 L692.35,537.93 M115.30,1126.52 L692.35,547.73 M115.30,1136.32 L692.35,557.54 M115.30,1146.13 L692.35,567.35 M115.30,1155.93 L692.35,577.15 M115.30,1165.74 L692.35,586.96 M115.30,1175.55 L692.35,596.77 M115.30,1185.35 L692.35,606.57 M115.30,1195.16 L692.35,616.38 M115.30,1204.97 L692.35,626.19 M115.30,1214.77 L692.35,635.99 M115.30,1224.58 L692.35,645.80 M115.30,1234.39 L692.35,655.60 M115.30,1244.19 L692.35,665.41 M115.30,1254.00 L692.35,675.22 M115.30,1263.80 L692.35,685.02 M115.30,1273.61 L692.35,694.83 M115.30,1283.42 L692.35,704.64 M115.30,1293.22 L692.35,714.44 M115.30,1303.03 L692.35,724.25 M115.30,1312.84 L692.35,734.05 M115.30,1322.64 L692.35,743.86 M115.30,1332.45 L692.35,753.67 M115.30,1342.25 L692.35,763.47 M115.30,1352.06 L692.35,773.28 M115.30,1361.87 L692.35,783.09 M115.30,1371.67 L692.35,792.89 M115.30,1381.48 L692.35,802.70 M115.30,1391.29 L692.35,812.51 M115.30,1401.09 L692.35,822.31 M115.30,1410.90 L692.35,832.12 M115.30,1420.71 L692.35,841.92 M115.30,1430.51 L692.35,851.73 M115.30,1440.32 L692.35,861.54 M115.30,1450.12 L692.35,871.34 M115.30,1459.93 L692.35,881.15 M115.30,1469.74 L692.35,890.96 M115.30,1479.54 L692.35,900.76 M115.30,1489.35 L692.35,910.57 M115.30,1499.16 L692.35,920.38 M115.30,1508.96 L692.35,930.18 M115.30,1518.77 L692.35,939.99 M115.30,1528.58 L692.35,949.79 M115.30,1538.38 L692.35,959.60 M115.30,1548.19 L692.35,969.41 M115.30,1557.99 L692.35,979.21 M115.30,1567.80 L692.35,989.02 M115.30,1577.61 L692.35,998.83 M115.30,1587.41 L692.35,1008.63" stroke="#0000ff" stroke-width="1.2" fill="none"/></g>
<path d="M115.4,766.9 L116.7,767.4 L117.9,767.8 L119.2,768.3 L120.5,768.7 L121.7,769.2 L123.0,769.7 L124.3,770.1 L125.5,770.6 L126.8,771.0 L128.1,771.5 L129.3,772.0 L130.6,772.4 L131.9,772.8 L133.2,773.2 L134.4,773.6 L135.7,774.0 L137.0,774.3 L138.3,774.6 L139.7,775.0 L141.0,775.3 L142.3,775.6 L143.6,775.9 L144.9,776.2 L146.2,776.5 L147.5,776.8 L148.8,777.2 L150.1,777.5 L151.4,777.8 L152.8,778.1 L154.1,778.4 L155.4,778.7 L156.7,779.0 L158.0,779.3 L159.3,779.5 L160.6,779.8 L162.0,780.1 L163.3,780.4 L164.6,780.6 L165.9,780.9 L167.3,781.1 L168.6,781.3 L169.9,781.6 L171.2,781.8 L172.6,781.9 L173.9,782.1 L175.2,782.3 L176.6,782.4 L177.9,782.6 L179.3,782.7 L180.6,782.9 L181.9,783.1 L183.3,783.2 L184.6,783.4 L185.9,783.6 L187.3,783.8 L188.6,783.9 L189.9,784.1 L191.3,784.3 L192.6,784.4 L194.0,784.6 L195.3,784.7 L196.6,784.8 L198.0,784.9 L199.3,785.0 L200.7,785.1 L202.0,785.2 L203.3,785.3 L204.7,785.4 L206.0,785.5 L207.4,785.6 L208.7,785.7 L210.1,785.8 L211.4,785.9 L212.8,786.0 L214.1,786.1 L215.4,786.2 L216.8,786.4 L218.1,786.5 L219.4,786.6 L220.8,786.8 L222.1,786.9 L223.5,787.0 L224.8,787.2 L226.2,787.3 L227.5,787.4 L228.8,787.5 L230.2,787.6 L231.5,787.7 L232.9,787.8 L234.2,787.9 L235.6,788.0 L236.9,788.1 L238.2,788.1 L239.6,788.2 L240.9,788.3 L242.3,788.4 L243.6,788.5 L245.0,788.5 L246.3,788.6 L247.6,788.7 L249.0,788.7 L250.3,788.8 L251.7,788.9 L253.0,789.0 L254.4,789.0 L255.7,789.1 L257.1,789.2 L258.4,789.2 L259.7,789.3 L261.1,789.3 L262.4,789.4 L263.8,789.5 L265.1,789.5 L266.5,789.6 L267.8,789.6 L269.2,789.7 L270.5,789.7 L271.9,789.8 L273.2,789.8 L274.5,789.9 L275.9,790.0 L277.2,790.0 L278.6,790.1 L279.9,790.1 L281.3,790.2 L282.6,790.3 L284.0,790.3 L285.3,790.4 L286.6,790.5 L288.0,790.5 L289.3,790.6 L290.7,790.7 L292.0,790.7 L293.4,790.8 L294.7,790.9 L296.1,791.0 L297.4,791.1 L298.7,791.2 L300.1,791.2 L301.4,791.3 L302.8,791.4 L304.1,791.5 L305.5,791.6 L306.8,791.6 L308.2,791.7 L309.5,791.7 L310.8,791.8 L312.2,791.8 L313.5,791.9 L314.9,791.9 L316.2,792.0 L317.6,792.0 L318.9,792.1 L320.3,792.1 L321.6,792.2 L323.0,792.2 L324.3,792.2 L325.6,792.3 L327.0,792.3 L328.3,792.3 L329.7,792.3 L331.0,792.3 L332.4,792.4 L333.7,792.4 L335.1,792.4 L336.4,792.4 L337.8,792.4 L339.1,792.4 L340.5,792.4 L341.8,792.4 L343.1,792.5 L344.5,792.5 L345.8,792.5 L347.2,792.5 L348.5,792.5 L349.9,792.5 L351.2,792.5 L352.6,792.5 L353.9,792.5 L355.3,792.5 L356.6,792.5 L358.0,792.5 L359.3,792.5 L360.7,792.6 L362.0,792.6 L363.3,792.6 L364.7,792.6 L366.0,792.6 L367.4,792.6 L368.7,792.6 L370.1,792.6 L371.4,792.6 L372.8,792.6 L374.1,792.6 L375.5,792.6 L376.8,792.6 L378.2,792.6 L379.5,792.6 L380.8,792.6 L382.2,792.6 L383.5,792.6 L384.9,792.6 L386.2,792.5 L387.6,792.5 L388.9,792.5 L390.3,792.4 L391.6,792.4 L393.0,792.4 L394.3,792.3 L395.7,792.3 L397.0,792.2 L398.3,792.2 L399.7,792.1 L401.0,792.1 L402.4,792.0 L403.7,791.9 L405.1,791.8 L406.4,791.7 L407.8,791.6 L409.1,791.5 L410.4,791.5 L411.8,791.4 L413.1,791.4 L414.5,791.3 L415.8,791.3 L417.2,791.3 L418.5,791.2 L419.9,791.2 L421.2,791.2 L422.6,791.1 L423.9,791.1 L425.2,791.0 L426.6,791.0 L427.9,791.0 L429.3,790.9 L430.6,790.8 L432.0,790.8 L433.3,790.7 L434.7,790.6 L436.0,790.5 L437.3,790.4 L438.7,790.3 L440.0,790.2 L441.4,790.1 L442.7,790.0 L444.1,789.9 L445.4,789.8 L446.7,789.7 L448.1,789.6 L449.4,789.5 L450.8,789.4 L452.1,789.3 L453.5,789.2 L454.8,789.1 L456.1,789.0 L457.5,788.9 L458.8,788.8 L460.2,788.7 L461.5,788.6 L462.9,788.5 L464.2,788.4 L465.5,788.3 L466.9,788.2 L468.2,788.1 L469.6,787.9 L470.9,787.8 L472.2,787.7 L473.6,787.5 L474.9,787.4 L476.3,787.3 L477.6,787.1 L478.9,787.0 L480.3,786.8 L481.6,786.7 L482.9,786.5 L484.3,786.4 L485.6,786.2 L487.0,786.1 L488.3,786.0 L489.6,785.8 L491.0,785.7 L492.3,785.6 L493.7,785.5 L495.0,785.4 L496.4,785.2 L497.7,785.1 L499.0,784.9 L500.4,784.8 L501.7,784.6 L503.0,784.3 L504.3,784.1 L505.7,783.9 L507.0,783.6 L508.3,783.3 L509.6,783.0 L510.9,782.7 L512.2,782.4 L513.5,782.1 L514.9,781.8 L516.2,781.4 L517.5,781.1 L518.8,780.7 L520.1,780.4 L521.4,780.1 L522.7,779.7 L524.0,779.4 L525.3,779.1 L526.6,778.8 L527.9,778.4 L529.2,778.1 L530.5,777.8 L531.8,777.4 L533.1,777.1 L534.4,776.7 L535.7,776.4 L537.0,776.0 L538.3,775.7 L539.6,775.3 L540.9,774.9 L542.2,774.6 L543.5,774.2 L544.8,773.8 L546.1,773.4 L547.4,773.0 L548.7,772.7 L550.0,772.3 L551.3,771.9 L552.5,771.5 L553.8,771.1 L555.1,770.7 L556.4,770.3 L557.7,769.9 L559.0,769.5 L560.3,769.1 L561.5,768.7 L562.8,768.2 L564.1,767.8 L565.4,767.4 L566.6,766.9 L567.9,766.5 L569.2,766.0 L570.4,765.6 L571.7,765.1 L573.0,764.6 L574.2,764.2 L575.5,763.7 L576.7,763.2 L578.0,762.7 L579.2,762.1 L580.4,761.6 L581.7,761.1 L582.9,760.5 L584.1,760.0 L585.4,759.4 L586.6,758.9 L587.8,758.3 L589.0,757.7 L590.3,757.2 L591.5,756.6 L592.7,756.0 L593.9,755.4 L595.1,754.8 L596.3,754.1 L597.4,753.4 L598.6,752.7 L599.7,752.1 L600.9,751.4 L602.0,750.7 L603.2,750.0 L604.3,749.2 L605.5,748.5 L606.6,747.8 L607.7,747.0 L608.8,746.2 L609.9,745.4 L610.9,744.6 L612.0,743.8 L613.1,742.9 L614.2,742.1 L615.3,741.4 L616.3,740.6 L617.4,739.8 L618.5,738.9 L619.5,738.1 L620.5,737.2 L621.5,736.2 L622.4,735.3 L623.4,734.3 L624.3,733.3 L625.2,732.3 L626.0,731.3 L626.9,730.2 L627.7,729.2 L628.5,728.1 L629.3,727.0 L630.1,725.9 L630.9,724.8 L631.6,723.7 L632.4,722.6 L633.1,721.4 L633.7,720.3 L634.4,719.1 L635.1,717.9 L635.7,716.7 L636.4,715.6 L637.1,714.4 L637.7,713.2 L638.4,712.0 L639.0,710.8 L639.6,709.7 L640.3,708.5 L640.9,707.3 L641.6,706.1 L642.2,704.9 L642.9,703.7 L643.5,702.6 L644.2,701.4 L644.8,700.2 L645.4,699.0 L646.1,697.8 L646.7,696.6 L647.3,695.4 L647.9,694.2 L648.6,693.0 L649.2,691.8 L649.8,690.6 L650.4,689.4 L650.9,688.2 L651.5,687.0 L652.0,685.7 L652.5,684.5 L653.0,683.3 L653.5,682.0 L654.0,680.8 L654.5,679.5 L654.9,678.2 L655.4,677.0 L655.8,675.7 L656.3,674.4 L656.7,673.2 L657.1,671.9 L657.6,670.6 L658.0,669.3 L658.4,668.0 L658.8,666.7 L659.2,665.4 L659.6,664.2 L660.0,662.9 L660.4,661.6 L660.7,660.3 L661.1,659.0 L661.5,657.7 L661.9,656.4 L662.2,655.1 L662.6,653.8 L663.0,652.5 L663.3,651.2 L663.7,649.9 L664.0,648.6 L664.4,647.3 L664.7,646.0 L665.0,644.7 L665.4,643.4 L665.7,642.1 L666.0,640.8 L666.3,639.5 L666.6,638.2 L667.0,636.9 L667.3,635.5 L667.6,634.2 L667.9,632.9 L668.2,631.6 L668.5,630.3 L668.8,629.0 L669.1,627.7 L669.4,626.4 L669.7,625.0 L669.9,623.7 L670.2,622.4 L670.5,621.1 L670.8,619.8 L671.1,618.5 L671.3,617.1 L671.6,615.8 L671.9,614.5 L672.1,613.2 L672.4,611.9 L672.7,610.5 L672.9,609.2 L673.2,607.9 L673.4,606.6 L673.7,605.3 L674.0,603.9 L674.2,602.6 L674.5,601.3 L674.7,600.0 L675.0,598.6 L675.2,597.3 L675.5,596.0" fill="none" stroke="#0000ff" stroke-width="1.1"/>
<path d="M115.4,834.9 L116.7,834.4 L117.9,834.0 L119.2,833.5 L120.5,833.1 L121.7,832.6 L123.0,832.1 L124.3,831.7 L125.5,831.2 L126.8,830.8 L128.1,830.3 L129.3,829.8 L130.6,829.4 L131.9,829.0 L133.2,828.6 L134.4,828.2 L135.7,827.8 L137.0,827.5 L138.3,827.2 L139.7,826.8 L141.0,826.5 L142.3,826.2 L143.6,825.9 L144.9,825.6 L146.2,825.3 L147.5,825.0 L148.8,824.6 L150.1,824.3 L151.4,824.0 L152.8,823.7 L154.1,823.4 L155.4,823.1 L156.7,822.8 L158.0,822.5 L159.3,822.3 L160.6,822.0 L162.0,821.7 L163.3,821.4 L164.6,821.2 L165.9,820.9 L167.3,820.7 L168.6,820.5 L169.9,820.2 L171.2,820.0 L172.6,819.9 L173.9,819.7 L175.2,819.5 L176.6,819.4 L177.9,819.2 L179.3,819.1 L180.6,818.9 L181.9,818.7 L183.3,818.6 L184.6,818.4 L185.9,818.2 L187.3,818.0 L188.6,817.9 L189.9,817.7 L191.3,817.5 L192.6,817.4 L194.0,817.2 L195.3,817.1 L196.6,817.0 L198.0,816.9 L199.3,816.8 L200.7,816.7 L202.0,816.6 L203.3,816.5 L204.7,816.4 L206.0,816.3 L207.4,816.2 L208.7,816.1 L210.1,816.0 L211.4,815.9 L212.8,815.8 L214.1,815.7 L215.4,815.6 L216.8,815.4 L218.1,815.3 L219.4,815.2 L220.8,815.0 L222.1,814.9 L223.5,814.8 L224.8,814.6 L226.2,814.5 L227.5,814.4 L228.8,814.3 L230.2,814.2 L231.5,814.1 L232.9,814.0 L234.2,813.9 L235.6,813.8 L236.9,813.7 L238.2,813.7 L239.6,813.6 L240.9,813.5 L242.3,813.4 L243.6,813.3 L245.0,813.3 L246.3,813.2 L247.6,813.1 L249.0,813.1 L250.3,813.0 L251.7,812.9 L253.0,812.8 L254.4,812.8 L255.7,812.7 L257.1,812.6 L258.4,812.6 L259.7,812.5 L261.1,812.5 L262.4,812.4 L263.8,812.3 L265.1,812.3 L266.5,812.2 L267.8,812.2 L269.2,812.1 L270.5,812.1 L271.9,812.0 L273.2,812.0 L274.5,811.9 L275.9,811.8 L277.2,811.8 L278.6,811.7 L279.9,811.7 L281.3,811.6 L282.6,811.5 L284.0,811.5 L285.3,811.4 L286.6,811.3 L288.0,811.3 L289.3,811.2 L290.7,811.1 L292.0,811.1 L293.4,811.0 L294.7,810.9 L296.1,810.8 L297.4,810.7 L298.7,810.6 L300.1,810.6 L301.4,810.5 L302.8,810.4 L304.1,810.3 L305.5,810.2 L306.8,810.2 L308.2,810.1 L309.5,810.1 L310.8,810.0 L312.2,810.0 L313.5,809.9 L314.9,809.9 L316.2,809.8 L317.6,809.8 L318.9,809.7 L320.3,809.7 L321.6,809.6 L323.0,809.6 L324.3,809.6 L325.6,809.5 L327.0,809.5 L328.3,809.5 L329.7,809.5 L331.0,809.5 L332.4,809.4 L333.7,809.4 L335.1,809.4 L336.4,809.4 L337.8,809.4 L339.1,809.4 L340.5,809.4 L341.8,809.4 L343.1,809.3 L344.5,809.3 L345.8,809.3 L347.2,809.3 L348.5,809.3 L349.9,809.3 L351.2,809.3 L352.6,809.3 L353.9,809.3 L355.3,809.3 L356.6,809.3 L358.0,809.3 L359.3,809.3 L360.7,809.2 L362.0,809.2 L363.3,809.2 L364.7,809.2 L366.0,809.2 L367.4,809.2 L368.7,809.2 L370.1,809.2 L371.4,809.2 L372.8,809.2 L374.1,809.2 L375.5,809.2 L376.8,809.2 L378.2,809.2 L379.5,809.2 L380.8,809.2 L382.2,809.2 L383.5,809.2 L384.9,809.2 L386.2,809.3 L387.6,809.3 L388.9,809.3 L390.3,809.4 L391.6,809.4 L393.0,809.4 L394.3,809.5 L395.7,809.5 L397.0,809.6 L398.3,809.6 L399.7,809.7 L401.0,809.7 L402.4,809.8 L403.7,809.9 L405.1,810.0 L406.4,810.1 L407.8,810.2 L409.1,810.3 L410.4,810.3 L411.8,810.4 L413.1,810.4 L414.5,810.5 L415.8,810.5 L417.2,810.5 L418.5,810.6 L419.9,810.6 L421.2,810.6 L422.6,810.7 L423.9,810.7 L425.2,810.8 L426.6,810.8 L427.9,810.8 L429.3,810.9 L430.6,811.0 L432.0,811.0 L433.3,811.1 L434.7,811.2 L436.0,811.3 L437.3,811.4 L438.7,811.5 L440.0,811.6 L441.4,811.7 L442.7,811.8 L444.1,811.9 L445.4,812.0 L446.7,812.1 L448.1,812.2 L449.4,812.3 L450.8,812.4 L452.1,812.5 L453.5,812.6 L454.8,812.7 L456.1,812.8 L457.5,812.9 L458.8,813.0 L460.2,813.1 L461.5,813.2 L462.9,813.3 L464.2,813.4 L465.5,813.5 L466.9,813.6 L468.2,813.7 L469.6,813.9 L470.9,814.0 L472.2,814.1 L473.6,814.3 L474.9,814.4 L476.3,814.5 L477.6,814.7 L478.9,814.8 L480.3,815.0 L481.6,815.1 L482.9,815.3 L484.3,815.4 L485.6,815.6 L487.0,815.7 L488.3,815.8 L489.6,816.0 L491.0,816.1 L492.3,816.2 L493.7,816.3 L495.0,816.4 L496.4,816.6 L497.7,816.7 L499.0,816.9 L500.4,817.0 L501.7,817.2 L503.0,817.5 L504.3,817.7 L505.7,817.9 L507.0,818.2 L508.3,818.5 L509.6,818.8 L510.9,819.1 L512.2,819.4 L513.5,819.7 L514.9,820.0 L516.2,820.4 L517.5,820.7 L518.8,821.1 L520.1,821.4 L521.4,821.7 L522.7,822.1 L524.0,822.4 L525.3,822.7 L526.6,823.0 L527.9,823.4 L529.2,823.7 L530.5,824.0 L531.8,824.4 L533.1,824.7 L534.4,825.1 L535.7,825.4 L537.0,825.8 L538.3,826.1 L539.6,826.5 L540.9,826.9 L542.2,827.2 L543.5,827.6 L544.8,828.0 L546.1,828.4 L547.4,828.8 L548.7,829.1 L550.0,829.5 L551.3,829.9 L552.5,830.3 L553.8,830.7 L555.1,831.1 L556.4,831.5 L557.7,831.9 L559.0,832.3 L560.3,832.7 L561.5,833.1 L562.8,833.6 L564.1,834.0 L565.4,834.4 L566.6,834.9 L567.9,835.3 L569.2,835.8 L570.4,836.2 L571.7,836.7 L573.0,837.2 L574.2,837.6 L575.5,838.1 L576.7,838.6 L578.0,839.1 L579.2,839.7 L580.4,840.2 L581.7,840.7 L582.9,841.3 L584.1,841.8 L585.4,842.4 L586.6,842.9 L587.8,843.5 L589.0,844.1 L590.3,844.6 L591.5,845.2 L592.7,845.8 L593.9,846.4 L595.1,847.0 L596.3,847.7 L597.4,848.4 L598.6,849.1 L599.7,849.7 L600.9,850.4 L602.0,851.1 L603.2,851.8 L604.3,852.6 L605.5,853.3 L606.6,854.0 L607.7,854.8 L608.8,855.6 L609.9,856.4 L610.9,857.2 L612.0,858.0 L613.1,858.9 L614.2,859.7 L615.3,860.4 L616.3,861.2 L617.4,862.0 L618.5,862.9 L619.5,863.7 L620.5,864.6 L621.5,865.6 L622.4,866.5 L623.4,867.5 L624.3,868.5 L625.2,869.5 L626.0,870.5 L626.9,871.6 L627.7,872.6 L628.5,873.7 L629.3,874.8 L630.1,875.9 L630.9,877.0 L631.6,878.1 L632.4,879.2 L633.1,880.4 L633.7,881.5 L634.4,882.7 L635.1,883.9 L635.7,885.1 L636.4,886.2 L637.1,887.4 L637.7,888.6 L638.4,889.8 L639.0,891.0 L639.6,892.1 L640.3,893.3 L640.9,894.5 L641.6,895.7 L642.2,896.9 L642.9,898.1 L643.5,899.2 L644.2,900.4 L644.8,901.6 L645.4,902.8 L646.1,904.0 L646.7,905.2 L647.3,906.4 L647.9,907.6 L648.6,908.8 L649.2,910.0 L649.8,911.2 L650.4,912.4 L650.9,913.6 L651.5,914.8 L652.0,916.1 L652.5,917.3 L653.0,918.5 L653.5,919.8 L654.0,921.0 L654.5,922.3 L654.9,923.6 L655.4,924.8 L655.8,926.1 L656.3,927.4 L656.7,928.6 L657.1,929.9 L657.6,931.2 L658.0,932.5 L658.4,933.8 L658.8,935.1 L659.2,936.4 L659.6,937.6 L660.0,938.9 L660.4,940.2 L660.7,941.5 L661.1,942.8 L661.5,944.1 L661.9,945.4 L662.2,946.7 L662.6,948.0 L663.0,949.3 L663.3,950.6 L663.7,951.9 L664.0,953.2 L664.4,954.5 L664.7,955.8 L665.0,957.1 L665.4,958.4 L665.7,959.7 L666.0,961.0 L666.3,962.3 L666.6,963.6 L667.0,964.9 L667.3,966.3 L667.6,967.6 L667.9,968.9 L668.2,970.2 L668.5,971.5 L668.8,972.8 L669.1,974.1 L669.4,975.4 L669.7,976.8 L669.9,978.1 L670.2,979.4 L670.5,980.7 L670.8,982.0 L671.1,983.3 L671.3,984.7 L671.6,986.0 L671.9,987.3 L672.1,988.6 L672.4,989.9 L672.7,991.3 L672.9,992.6 L673.2,993.9 L673.4,995.2 L673.7,996.5 L674.0,997.9 L674.2,999.2 L674.5,1000.5 L674.7,1001.8 L675.0,1003.2 L675.2,1004.5 L675.5,1005.8" fill="none" stroke="#0000ff" stroke-width="1.1"/>
<path d="M115.4,762.0 L116.7,762.6 L118.0,763.2 L119.3,763.8 L120.6,764.4 L121.9,765.0 L123.2,765.6 L124.5,766.2 L125.8,766.8 L127.1,767.4 L128.4,768.0 L129.7,768.6 L131.0,769.2 L132.3,769.7 L133.6,770.3 L135.0,770.9 L136.3,771.4 L137.6,772.0 L138.9,772.5 L140.3,773.0 L141.6,773.6 L142.9,774.1 L144.3,774.6 L145.6,775.1 L146.9,775.6 L148.3,776.1 L149.6,776.6 L151.0,777.1 L152.3,777.6 L153.7,778.0 L155.0,778.5 L156.4,778.9 L157.8,779.4 L159.1,779.8 L160.5,780.2 L161.9,780.6 L163.2,781.0 L164.6,781.4 L166.0,781.8 L167.4,782.1 L168.8,782.5 L170.2,782.8 L171.6,783.1 L173.0,783.4 L174.4,783.6 L175.8,783.9 L177.2,784.1 L178.6,784.3 L180.0,784.5 L181.5,784.8 L182.9,785.0 L184.3,785.2 L185.7,785.4 L187.1,785.6 L188.5,785.9 L189.9,786.1 L191.4,786.3 L192.8,786.5 L194.2,786.7 L195.6,786.9 L197.0,787.1 L198.4,787.3 L199.9,787.5 L201.3,787.6 L202.7,787.8 L204.1,787.9 L205.6,788.0 L207.0,788.1 L208.4,788.3 L209.8,788.4 L211.3,788.5 L212.7,788.7 L214.1,788.8 L215.5,789.0 L217.0,789.2 L218.4,789.4 L219.8,789.6 L221.2,789.8 L222.6,789.9 L224.1,790.1 L225.5,790.2 L226.9,790.4 L228.3,790.5 L229.8,790.6 L231.2,790.7 L232.6,790.9 L234.0,791.0 L235.5,791.1 L236.9,791.1 L238.3,791.2 L239.8,791.3 L241.2,791.4 L242.6,791.4 L244.0,791.5 L245.5,791.6 L246.9,791.6 L248.3,791.7 L249.8,791.8 L251.2,791.9 L252.6,791.9 L254.1,792.0 L255.5,792.1 L256.9,792.1 L258.3,792.2 L259.8,792.3 L261.2,792.3 L262.6,792.4 L264.1,792.5 L265.5,792.5 L266.9,792.6 L268.4,792.7 L269.8,792.7 L271.2,792.8 L272.6,792.8 L274.1,792.8 L275.5,792.9 L276.9,792.9 L278.4,792.9 L279.8,792.9 L281.2,793.0 L282.7,793.0 L284.1,793.0 L285.5,793.0 L287.0,793.1 L288.4,793.1 L289.8,793.1 L291.3,793.1 L292.7,793.2 L294.1,793.2 L295.6,793.2 L297.0,793.3 L298.4,793.3 L299.8,793.3 L301.3,793.3 L302.7,793.3 L304.1,793.3 L305.6,793.4 L307.0,793.4 L308.4,793.4 L309.9,793.4 L311.3,793.4 L312.7,793.4 L314.2,793.4 L315.6,793.4 L317.0,793.5 L318.5,793.5 L319.9,793.5 L321.3,793.5 L322.7,793.5 L324.2,793.5 L325.6,793.5 L327.0,793.5 L328.5,793.5 L329.9,793.5 L331.3,793.5 L332.8,793.6 L334.2,793.6 L335.6,793.6 L337.1,793.6 L338.5,793.6 L339.9,793.6 L341.4,793.6 L342.8,793.6 L344.2,793.6 L345.7,793.6 L347.1,793.6 L348.5,793.7 L349.9,793.7 L351.4,793.7 L352.8,793.7 L354.2,793.7 L355.7,793.7 L357.1,793.7 L358.5,793.7 L360.0,793.7 L361.4,793.7 L362.8,793.7 L364.3,793.7 L365.7,793.7 L367.1,793.7 L368.6,793.8 L370.0,793.8 L371.4,793.8 L372.9,793.8 L374.3,793.8 L375.7,793.8 L377.1,793.8 L378.6,793.8 L380.0,793.8 L381.4,793.8 L382.9,793.8 L384.3,793.8 L385.7,793.8 L387.2,793.8 L388.6,793.8 L390.0,793.8 L391.5,793.8 L392.9,793.8 L394.3,793.8 L395.8,793.9 L397.2,793.9 L398.6,793.9 L400.1,793.9 L401.5,793.9 L402.9,793.9 L404.3,793.9 L405.8,793.9 L407.2,793.9 L408.6,793.9 L410.1,793.9 L411.5,793.9 L412.9,793.9 L414.4,793.9 L415.8,793.9 L417.2,793.9 L418.7,793.9 L420.1,793.9 L421.5,793.9 L423.0,793.9 L424.4,793.9 L425.8,793.9 L427.3,793.9 L428.7,793.9 L430.1,793.9 L431.5,793.9 L433.0,793.9 L434.4,793.9 L435.8,793.9 L437.3,793.9 L438.7,793.9 L440.1,793.9 L441.6,793.9 L443.0,793.9 L444.4,793.9 L445.9,793.9 L447.3,793.9 L448.7,793.9 L450.2,793.9 L451.6,793.9 L453.0,793.9 L454.5,793.9 L455.9,793.9 L457.3,793.9 L458.7,793.9 L460.2,793.9 L461.6,793.9 L463.0,793.9 L464.5,793.9 L465.9,793.9 L467.3,793.9 L468.8,793.9 L470.2,793.9 L471.6,793.9 L473.1,793.9 L474.5,793.9 L475.9,793.9 L477.4,793.9 L478.8,793.9 L480.2,793.9 L481.7,793.9 L483.1,793.9 L484.5,793.9 L485.9,793.9 L487.4,793.9 L488.8,793.9 L490.2,793.9 L491.7,793.9 L493.1,793.9 L494.5,793.9 L496.0,793.9 L497.4,793.9 L498.8,793.9 L500.3,793.9 L501.7,793.9 L503.1,793.9 L504.6,793.9 L506.0,793.8 L507.4,793.8 L508.9,793.8 L510.3,793.8 L511.7,793.8 L513.1,793.8 L514.6,793.8 L516.0,793.8 L517.4,793.7 L518.9,793.7 L520.3,793.7 L521.7,793.7 L523.2,793.7 L524.6,793.7 L526.0,793.6 L527.5,793.6 L528.9,793.6 L530.3,793.6 L531.8,793.6 L533.2,793.5 L534.6,793.5 L536.0,793.5 L537.5,793.5 L538.9,793.4 L540.3,793.4 L541.8,793.4 L543.2,793.3 L544.6,793.3 L546.1,793.3 L547.5,793.2 L548.9,793.2 L550.4,793.1 L551.8,793.1 L553.2,793.0 L554.7,792.9 L556.1,792.9 L557.5,792.8 L558.9,792.7 L560.4,792.7 L561.8,792.6 L563.2,792.5 L564.7,792.5 L566.1,792.4 L567.5,792.3 L569.0,792.2 L570.4,792.1 L571.8,792.0 L573.2,791.9 L574.7,791.7 L576.1,791.6 L577.5,791.5 L578.9,791.3 L580.3,791.2 L581.8,791.0 L583.2,790.7 L584.6,790.5 L586.0,790.2 L587.4,789.9 L588.8,789.6 L590.2,789.3 L591.6,789.0 L593.0,788.6 L594.3,788.2 L595.7,787.8 L597.1,787.4 L598.5,787.0 L599.8,786.6 L601.2,786.1 L602.5,785.5 L603.8,785.0 L605.1,784.4 L606.5,783.8 L607.8,783.3 L609.1,782.7 L610.4,782.1 L611.7,781.6 L613.0,781.0 L614.3,780.4 L615.6,779.8 L616.9,779.2 L618.2,778.5 L619.5,777.9 L620.8,777.2 L622.0,776.6 L623.3,775.9 L624.5,775.2 L625.8,774.5 L627.0,773.7 L628.2,773.0 L629.4,772.2 L630.6,771.4 L631.8,770.6 L633.0,769.8 L634.1,769.0 L635.3,768.1 L636.4,767.2 L637.6,766.3 L638.7,765.4 L639.8,764.5 L640.9,763.6 L641.9,762.6 L643.0,761.6 L644.0,760.6 L645.0,759.6 L646.0,758.6 L646.9,757.5 L647.9,756.4 L648.8,755.3 L649.7,754.2 L650.6,753.1 L651.4,751.9 L652.3,750.8 L653.1,749.6 L653.9,748.4 L654.7,747.2 L655.4,746.0 L656.2,744.8 L656.9,743.5 L657.5,742.3 L658.2,741.0 L658.9,739.7 L659.5,738.4 L660.2,737.2 L660.8,735.9 L661.5,734.6 L662.1,733.3 L662.8,732.1 L663.4,730.8 L664.1,729.5 L664.7,728.2 L665.2,726.9 L665.8,725.6 L666.3,724.3 L666.8,722.9 L667.3,721.6 L667.9,720.2 L668.3,718.9 L668.8,717.5 L669.3,716.2 L669.8,714.8 L670.3,713.5 L670.7,712.1 L671.2,710.8 L671.6,709.4 L672.0,708.0 L672.4,706.7 L672.8,705.3 L673.2,703.9 L673.6,702.5 L674.0,701.2 L674.4,699.8 L674.8,698.4 L675.2,697.0 L675.6,695.7 L676.0,694.3 L676.4,692.9 L676.8,691.5 L677.2,690.2 L677.6,688.8 L678.0,687.4 L678.4,686.0 L678.8,684.6 L679.1,683.3 L679.5,681.9 L679.8,680.5 L680.2,679.1 L680.5,677.7 L680.8,676.3 L681.1,674.9 L681.4,673.5 L681.6,672.1 L681.9,670.7 L682.2,669.3 L682.4,667.9 L682.7,666.5 L682.9,665.1 L683.2,663.7 L683.4,662.2 L683.7,660.8 L683.9,659.4 L684.1,658.0 L684.4,656.6 L684.6,655.2 L684.9,653.8 L685.2,652.4 L685.4,651.0 L685.7,649.6 L686.0,648.2 L686.3,646.7 L686.5,645.3 L686.8,643.9 L687.1,642.5 L687.3,641.1 L687.5,639.7 L687.8,638.3 L688.0,636.9 L688.2,635.5 L688.4,634.0 L688.6,632.6 L688.7,631.2 L688.9,629.8 L689.1,628.4 L689.2,626.9 L689.4,625.5 L689.5,624.1 L689.6,622.7 L689.8,621.2 L689.9,619.8 L690.1,618.4 L690.2,617.0 L690.3,615.5 L690.4,614.1 L690.6,612.7 L690.7,611.3 L690.8,609.8 L691.0,608.4 L691.1,607.0 L691.2,605.6 L691.4,604.1 L691.5,602.7 L691.6,601.3 L691.7,599.9 L691.9,598.4 L692.0,597.0" fill="none" stroke="#000" stroke-width="1.1"/>
<path d="M115.4,839.8 L116.7,839.2 L118.0,838.6 L119.3,838.0 L120.6,837.4 L121.9,836.8 L123.2,836.2 L124.5,835.6 L125.8,835.0 L127.1,834.4 L128.4,833.8 L129.7,833.2 L131.0,832.6 L132.3,832.1 L133.6,831.5 L135.0,830.9 L136.3,830.4 L137.6,829.8 L138.9,829.3 L140.3,828.8 L141.6,828.2 L142.9,827.7 L144.3,827.2 L145.6,826.7 L146.9,826.2 L148.3,825.7 L149.6,825.2 L151.0,824.7 L152.3,824.2 L153.7,823.8 L155.0,823.3 L156.4,822.9 L157.8,822.4 L159.1,822.0 L160.5,821.6 L161.9,821.2 L163.2,820.8 L164.6,820.4 L166.0,820.0 L167.4,819.7 L168.8,819.3 L170.2,819.0 L171.6,818.7 L173.0,818.4 L174.4,818.2 L175.8,817.9 L177.2,817.7 L178.6,817.5 L180.0,817.3 L181.5,817.0 L182.9,816.8 L184.3,816.6 L185.7,816.4 L187.1,816.2 L188.5,815.9 L189.9,815.7 L191.4,815.5 L192.8,815.3 L194.2,815.1 L195.6,814.9 L197.0,814.7 L198.4,814.5 L199.9,814.3 L201.3,814.2 L202.7,814.0 L204.1,813.9 L205.6,813.8 L207.0,813.7 L208.4,813.5 L209.8,813.4 L211.3,813.3 L212.7,813.1 L214.1,813.0 L215.5,812.8 L217.0,812.6 L218.4,812.4 L219.8,812.2 L221.2,812.0 L222.6,811.9 L224.1,811.7 L225.5,811.6 L226.9,811.4 L228.3,811.3 L229.8,811.2 L231.2,811.1 L232.6,810.9 L234.0,810.8 L235.5,810.7 L236.9,810.7 L238.3,810.6 L239.8,810.5 L241.2,810.4 L242.6,810.4 L244.0,810.3 L245.5,810.2 L246.9,810.2 L248.3,810.1 L249.8,810.0 L251.2,809.9 L252.6,809.9 L254.1,809.8 L255.5,809.7 L256.9,809.7 L258.3,809.6 L259.8,809.5 L261.2,809.5 L262.6,809.4 L264.1,809.3 L265.5,809.3 L266.9,809.2 L268.4,809.1 L269.8,809.1 L271.2,809.0 L272.6,809.0 L274.1,809.0 L275.5,808.9 L276.9,808.9 L278.4,808.9 L279.8,808.9 L281.2,808.8 L282.7,808.8 L284.1,808.8 L285.5,808.8 L287.0,808.7 L288.4,808.7 L289.8,808.7 L291.3,808.7 L292.7,808.6 L294.1,808.6 L295.6,808.6 L297.0,808.5 L298.4,808.5 L299.8,808.5 L301.3,808.5 L302.7,808.5 L304.1,808.5 L305.6,808.4 L307.0,808.4 L308.4,808.4 L309.9,808.4 L311.3,808.4 L312.7,808.4 L314.2,808.4 L315.6,808.4 L317.0,808.3 L318.5,808.3 L319.9,808.3 L321.3,808.3 L322.7,808.3 L324.2,808.3 L325.6,808.3 L327.0,808.3 L328.5,808.3 L329.9,808.3 L331.3,808.3 L332.8,808.2 L334.2,808.2 L335.6,808.2 L337.1,808.2 L338.5,808.2 L339.9,808.2 L341.4,808.2 L342.8,808.2 L344.2,808.2 L345.7,808.2 L347.1,808.2 L348.5,808.1 L349.9,808.1 L351.4,808.1 L352.8,808.1 L354.2,808.1 L355.7,808.1 L357.1,808.1 L358.5,808.1 L360.0,808.1 L361.4,808.1 L362.8,808.1 L364.3,808.1 L365.7,808.1 L367.1,808.1 L368.6,808.0 L370.0,808.0 L371.4,808.0 L372.9,808.0 L374.3,808.0 L375.7,808.0 L377.1,808.0 L378.6,808.0 L380.0,808.0 L381.4,808.0 L382.9,808.0 L384.3,808.0 L385.7,808.0 L387.2,808.0 L388.6,808.0 L390.0,808.0 L391.5,808.0 L392.9,808.0 L394.3,808.0 L395.8,807.9 L397.2,807.9 L398.6,807.9 L400.1,807.9 L401.5,807.9 L402.9,807.9 L404.3,807.9 L405.8,807.9 L407.2,807.9 L408.6,807.9 L410.1,807.9 L411.5,807.9 L412.9,807.9 L414.4,807.9 L415.8,807.9 L417.2,807.9 L418.7,807.9 L420.1,807.9 L421.5,807.9 L423.0,807.9 L424.4,807.9 L425.8,807.9 L427.3,807.9 L428.7,807.9 L430.1,807.9 L431.5,807.9 L433.0,807.9 L434.4,807.9 L435.8,807.9 L437.3,807.9 L438.7,807.9 L440.1,807.9 L441.6,807.9 L443.0,807.9 L444.4,807.9 L445.9,807.9 L447.3,807.9 L448.7,807.9 L450.2,807.9 L451.6,807.9 L453.0,807.9 L454.5,807.9 L455.9,807.9 L457.3,807.9 L458.7,807.9 L460.2,807.9 L461.6,807.9 L463.0,807.9 L464.5,807.9 L465.9,807.9 L467.3,807.9 L468.8,807.9 L470.2,807.9 L471.6,807.9 L473.1,807.9 L474.5,807.9 L475.9,807.9 L477.4,807.9 L478.8,807.9 L480.2,807.9 L481.7,807.9 L483.1,807.9 L484.5,807.9 L485.9,807.9 L487.4,807.9 L488.8,807.9 L490.2,807.9 L491.7,807.9 L493.1,807.9 L494.5,807.9 L496.0,807.9 L497.4,807.9 L498.8,807.9 L500.3,807.9 L501.7,807.9 L503.1,807.9 L504.6,807.9 L506.0,808.0 L507.4,808.0 L508.9,808.0 L510.3,808.0 L511.7,808.0 L513.1,808.0 L514.6,808.0 L516.0,808.0 L517.4,808.1 L518.9,808.1 L520.3,808.1 L521.7,808.1 L523.2,808.1 L524.6,808.1 L526.0,808.2 L527.5,808.2 L528.9,808.2 L530.3,808.2 L531.8,808.2 L533.2,808.3 L534.6,808.3 L536.0,808.3 L537.5,808.3 L538.9,808.4 L540.3,808.4 L541.8,808.4 L543.2,808.5 L544.6,808.5 L546.1,808.5 L547.5,808.6 L548.9,808.6 L550.4,808.7 L551.8,808.7 L553.2,808.8 L554.7,808.9 L556.1,808.9 L557.5,809.0 L558.9,809.1 L560.4,809.1 L561.8,809.2 L563.2,809.3 L564.7,809.3 L566.1,809.4 L567.5,809.5 L569.0,809.6 L570.4,809.7 L571.8,809.8 L573.2,809.9 L574.7,810.1 L576.1,810.2 L577.5,810.3 L578.9,810.5 L580.3,810.6 L581.8,810.8 L583.2,811.1 L584.6,811.3 L586.0,811.6 L587.4,811.9 L588.8,812.2 L590.2,812.5 L591.6,812.8 L593.0,813.2 L594.3,813.6 L595.7,814.0 L597.1,814.4 L598.5,814.8 L599.8,815.2 L601.2,815.7 L602.5,816.3 L603.8,816.8 L605.1,817.4 L606.5,818.0 L607.8,818.5 L609.1,819.1 L610.4,819.7 L611.7,820.2 L613.0,820.8 L614.3,821.4 L615.6,822.0 L616.9,822.6 L618.2,823.3 L619.5,823.9 L620.8,824.6 L622.0,825.2 L623.3,825.9 L624.5,826.6 L625.8,827.3 L627.0,828.1 L628.2,828.8 L629.4,829.6 L630.6,830.4 L631.8,831.2 L633.0,832.0 L634.1,832.8 L635.3,833.7 L636.4,834.6 L637.6,835.5 L638.7,836.4 L639.8,837.3 L640.9,838.2 L641.9,839.2 L643.0,840.2 L644.0,841.2 L645.0,842.2 L646.0,843.2 L646.9,844.3 L647.9,845.4 L648.8,846.5 L649.7,847.6 L650.6,848.7 L651.4,849.9 L652.3,851.0 L653.1,852.2 L653.9,853.4 L654.7,854.6 L655.4,855.8 L656.2,857.0 L656.9,858.3 L657.5,859.5 L658.2,860.8 L658.9,862.1 L659.5,863.4 L660.2,864.6 L660.8,865.9 L661.5,867.2 L662.1,868.5 L662.8,869.7 L663.4,871.0 L664.1,872.3 L664.7,873.6 L665.2,874.9 L665.8,876.2 L666.3,877.5 L666.8,878.9 L667.3,880.2 L667.9,881.6 L668.3,882.9 L668.8,884.3 L669.3,885.6 L669.8,887.0 L670.3,888.3 L670.7,889.7 L671.2,891.0 L671.6,892.4 L672.0,893.8 L672.4,895.1 L672.8,896.5 L673.2,897.9 L673.6,899.3 L674.0,900.6 L674.4,902.0 L674.8,903.4 L675.2,904.8 L675.6,906.1 L676.0,907.5 L676.4,908.9 L676.8,910.3 L677.2,911.6 L677.6,913.0 L678.0,914.4 L678.4,915.8 L678.8,917.2 L679.1,918.5 L679.5,919.9 L679.8,921.3 L680.2,922.7 L680.5,924.1 L680.8,925.5 L681.1,926.9 L681.4,928.3 L681.6,929.7 L681.9,931.1 L682.2,932.5 L682.4,933.9 L682.7,935.3 L682.9,936.7 L683.2,938.1 L683.4,939.6 L683.7,941.0 L683.9,942.4 L684.1,943.8 L684.4,945.2 L684.6,946.6 L684.9,948.0 L685.2,949.4 L685.4,950.8 L685.7,952.2 L686.0,953.6 L686.3,955.1 L686.5,956.5 L686.8,957.9 L687.1,959.3 L687.3,960.7 L687.5,962.1 L687.8,963.5 L688.0,964.9 L688.2,966.3 L688.4,967.8 L688.6,969.2 L688.7,970.6 L688.9,972.0 L689.1,973.4 L689.2,974.9 L689.4,976.3 L689.5,977.7 L689.6,979.1 L689.8,980.6 L689.9,982.0 L690.1,983.4 L690.2,984.8 L690.3,986.3 L690.4,987.7 L690.6,989.1 L690.7,990.5 L690.8,992.0 L691.0,993.4 L691.1,994.8 L691.2,996.2 L691.4,997.7 L691.5,999.1 L691.6,1000.5 L691.7,1001.9 L691.9,1003.4 L692.0,1004.8" fill="none" stroke="#000" stroke-width="1.1"/>
<path d="M262.0,603.0 L263.0,603.7 L264.0,604.4 L265.0,605.0 L266.0,605.7 L267.0,606.4 L268.0,607.0 L269.1,607.6 L270.1,608.3 L271.1,608.9 L272.2,609.5 L273.2,610.2 L274.2,610.8 L275.2,611.5 L276.2,612.2 L277.2,612.8 L278.2,613.5 L279.2,614.2 L280.2,614.9 L281.2,615.7 L282.1,616.4 L283.1,617.1 L284.1,617.8 L285.0,618.6 L286.0,619.3 L286.9,620.1 L287.9,620.8 L288.8,621.6 L289.8,622.3 L290.7,623.1 L291.6,623.9 L292.6,624.6 L293.5,625.4 L294.4,626.2 L295.3,627.0 L296.2,627.8 L297.2,628.6 L298.1,629.4 L299.0,630.2 L299.9,630.9 L300.8,631.7 L301.7,632.5 L302.6,633.3 L303.6,634.1 L304.5,634.9 L305.4,635.7 L306.3,636.5 L307.2,637.3 L308.1,638.1 L309.0,638.9 L310.0,639.7 L310.9,640.5 L311.8,641.3 L312.7,642.1 L313.5,642.9 L314.4,643.7 L315.3,644.5 L316.2,645.4 L317.1,646.2 L318.0,647.0 L318.8,647.9 L319.7,648.7 L320.6,649.5 L321.4,650.4 L322.3,651.2 L323.2,652.1 L324.1,652.9 L324.9,653.7 L325.8,654.6 L326.7,655.4 L327.5,656.2 L328.4,657.1 L329.3,657.9 L330.2,658.8 L331.0,659.6 L331.9,660.4 L332.8,661.3 L333.6,662.1 L334.5,663.0 L335.4,663.8 L336.2,664.7 L337.1,665.5 L338.0,666.3 L338.9,667.2 L339.7,668.0 L340.6,668.8 L341.5,669.7 L342.4,670.5 L343.2,671.3 L344.1,672.1 L345.0,673.0 L345.9,673.8 L346.7,674.7 L347.6,675.5 L348.5,676.4 L349.3,677.2 L350.2,678.1 L351.0,679.0 L351.8,679.8 L352.7,680.7 L353.5,681.6 L354.3,682.5 L355.1,683.4 L356.0,684.2 L356.8,685.1 L357.6,686.0 L358.5,686.9 L359.3,687.7 L360.2,688.6 L361.0,689.4 L361.9,690.3 L362.8,691.1 L363.6,691.9 L364.5,692.8 L365.4,693.6 L366.3,694.4 L367.2,695.3 L368.0,696.1 L368.9,697.0 L369.8,697.8 L370.6,698.6 L371.5,699.5 L372.3,700.3 L373.2,701.2 L374.0,702.1 L374.9,702.9 L375.7,703.8 L376.5,704.7 L377.4,705.6 L378.2,706.4 L379.1,707.3 L379.9,708.2 L380.7,709.0 L381.6,709.9 L382.5,710.8 L383.3,711.6 L384.2,712.5 L385.0,713.3 L385.9,714.1 L386.8,715.0 L387.6,715.8 L388.5,716.7 L389.4,717.5 L390.3,718.3 L391.1,719.2 L392.0,720.0 L392.9,720.8 L393.8,721.7 L394.6,722.5 L395.5,723.4 L396.4,724.2 L397.2,725.0 L398.1,725.9 L399.0,726.7 L399.8,727.6 L400.7,728.4 L401.6,729.3 L402.5,730.1 L403.3,730.9 L404.2,731.7 L405.1,732.5 L406.0,733.3 L406.9,734.1 L407.9,734.9 L408.8,735.7 L409.7,736.5 L410.7,737.2 L411.6,738.0 L412.5,738.7 L413.5,739.5 L414.5,740.2 L415.4,741.0 L416.4,741.7 L417.3,742.4 L418.3,743.1 L419.3,743.9 L420.3,744.6 L421.2,745.3 L422.2,746.0 L423.2,746.7 L424.2,747.4 L425.2,748.0 L426.2,748.7 L427.2,749.4 L428.3,750.0 L429.3,750.6 L430.4,751.2 L431.4,751.8 L432.5,752.4 L433.6,752.9 L434.6,753.5 L435.7,754.1 L436.7,754.7 L437.8,755.3 L438.8,755.9 L439.9,756.5 L440.9,757.1 L442.0,757.7 L443.0,758.3 L444.1,758.9 L445.1,759.5 L446.2,760.0 L447.3,760.5 L448.4,761.1 L449.5,761.5 L450.6,762.0 L451.7,762.5 L452.9,763.0 L454.0,763.4 L455.1,763.8 L456.3,764.2 L457.4,764.6 L458.6,765.0 L459.7,765.3 L460.9,765.7 L462.0,766.0 L463.2,766.3 L464.4,766.7 L465.5,767.0 L466.7,767.3 L467.9,767.6 L469.1,767.9 L470.2,768.1 L471.4,768.2 L472.6,768.4 L473.8,768.5 L475.0,768.6 L476.2,768.7 L477.5,768.8 L478.7,768.9 L479.9,769.0 L481.1,769.1 L482.3,769.2 L483.5,769.3 L484.7,769.4 L485.9,769.5 L487.1,769.5 L488.3,769.5 L489.5,769.6 L490.7,769.6 L491.9,769.6 L493.1,769.6 L494.4,769.7 L495.6,769.7 L496.8,769.7 L498.0,769.7 L499.2,769.7 L500.4,769.7 L501.6,769.8 L502.8,769.8 L504.0,769.9 L505.2,769.9 L506.4,770.0 L507.7,770.0 L508.9,770.1 L510.1,770.1 L511.3,770.2 L512.5,770.3 L513.7,770.4 L514.9,770.4 L516.1,770.5 L517.3,770.6 L518.5,770.7 L519.7,770.8 L520.9,770.9 L522.1,771.0 L523.3,771.1 L524.5,771.2 L525.7,771.3 L526.9,771.4 L528.1,771.6 L529.4,771.7 L530.6,771.8 L531.8,771.9 L533.0,772.0 L534.2,772.1 L535.4,772.2 L536.6,772.3 L537.8,772.4 L539.0,772.5 L540.2,772.6 L541.4,772.7 L542.6,772.8 L543.8,772.9 L545.0,773.0 L546.2,773.0 L547.4,773.1 L548.6,773.2 L549.8,773.3 L551.1,773.4 L552.3,773.4 L553.5,773.5 L554.7,773.6 L555.9,773.7 L557.1,773.7 L558.3,773.8 L559.5,773.9 L560.7,774.0 L561.9,774.0 L563.1,774.1 L564.3,774.1 L565.5,774.2 L566.7,774.2 L568.0,774.2 L569.2,774.2 L570.4,774.2 L571.6,774.2 L572.8,774.2 L574.0,774.2 L575.2,774.2 L576.4,774.2 L577.6,774.1 L578.8,774.0 L580.0,773.9 L581.2,773.8 L582.4,773.6 L583.6,773.5 L584.8,773.3 L586.0,773.2 L587.2,773.1 L588.4,772.9 L589.6,772.8 L590.8,772.6 L592.0,772.4 L593.2,772.2 L594.4,772.1 L595.6,771.9 L596.8,771.7 L598.0,771.4 L599.2,771.2 L600.4,770.9 L601.5,770.6 L602.7,770.2 L603.8,769.9 L605.0,769.5 L606.1,769.1 L607.3,768.7 L608.4,768.3 L609.6,767.9 L610.7,767.6 L611.9,767.2 L613.0,766.9 L614.2,766.5 L615.3,766.2 L616.5,765.8 L617.6,765.4 L618.8,765.0 L619.9,764.6 L621.1,764.2 L622.2,763.7 L623.3,763.3 L624.4,762.8 L625.5,762.4 L626.7,761.9 L627.8,761.4 L628.8,760.9 L629.9,760.3 L631.0,759.8 L632.1,759.3 L633.2,758.7 L634.3,758.1 L635.3,757.6 L636.4,756.9 L637.4,756.3 L638.4,755.6 L639.4,754.9 L640.3,754.2 L641.2,753.4 L642.2,752.6 L643.0,751.8 L643.9,750.9 L644.7,750.0 L645.5,749.1 L646.3,748.2 L647.1,747.3 L647.8,746.3 L648.6,745.3 L649.3,744.4 L650.0,743.4 L650.6,742.4 L651.3,741.4 L651.9,740.3 L652.5,739.3 L653.1,738.2 L653.7,737.2 L654.3,736.1 L654.9,735.0 L655.4,734.0 L655.9,732.9 L656.4,731.8 L656.9,730.7 L657.4,729.5 L657.8,728.4 L658.3,727.3 L658.7,726.2 L659.1,725.0 L659.5,723.9 L659.9,722.7 L660.3,721.6 L660.8,720.5 L661.2,719.4 L661.6,718.2 L662.1,717.1 L662.5,716.0 L662.9,714.8 L663.2,713.7 L663.6,712.5 L663.9,711.3 L664.3,710.2 L664.6,709.0 L664.9,707.9 L665.3,706.7 L665.6,705.5 L665.9,704.4 L666.2,703.2 L666.5,702.0 L666.8,700.8 L667.1,699.7 L667.4,698.5 L667.7,697.3 L668.0,696.2 L668.3,695.0 L668.6,693.8 L668.8,692.6 L669.1,691.5 L669.4,690.3 L669.6,689.1 L669.8,687.9 L670.1,686.7 L670.3,685.5 L670.5,684.3 L670.8,683.2 L671.0,682.0 L671.3,680.8 L671.5,679.6 L671.8,678.4 L672.0,677.2 L672.3,676.1 L672.5,674.9 L672.8,673.7 L673.0,672.5 L673.2,671.3 L673.4,670.1 L673.6,668.9 L673.9,667.7 L674.1,666.6 L674.3,665.4 L674.5,664.2 L674.7,663.0 L674.9,661.8 L675.1,660.6 L675.3,659.4 L675.5,658.2 L675.7,657.0 L675.8,655.8 L676.0,654.6 L676.2,653.4 L676.4,652.2 L676.5,651.0 L676.7,649.8 L676.8,648.6 L677.0,647.4 L677.1,646.2 L677.2,645.0 L677.4,643.8 L677.5,642.6 L677.7,641.4 L677.8,640.2 L678.0,639.0 L678.2,637.8 L678.3,636.6 L678.5,635.4 L678.7,634.2 L678.9,633.0 L679.1,631.9 L679.3,630.7 L679.6,629.5 L679.8,628.3 L680.0,627.1 L680.1,625.9 L680.3,624.7 L680.5,623.5 L680.6,622.3 L680.8,621.1 L680.9,619.9 L681.1,618.7 L681.3,617.5 L681.5,616.3 L681.7,615.1 L682.0,613.9 L682.2,612.8 L682.4,611.6 L682.6,610.4 L682.8,609.2 L682.9,608.0 L683.1,606.8 L683.3,605.6 L683.5,604.4 L683.6,603.2 L683.8,602.0" fill="none" stroke="#006400" stroke-width="4.1" stroke-dasharray="4.15 4.08"/>
<path d="M262.0,998.8 L263.0,998.1 L264.0,997.4 L265.0,996.8 L266.0,996.1 L267.0,995.4 L268.0,994.8 L269.1,994.2 L270.1,993.5 L271.1,992.9 L272.2,992.3 L273.2,991.6 L274.2,991.0 L275.2,990.3 L276.2,989.6 L277.2,989.0 L278.2,988.3 L279.2,987.6 L280.2,986.9 L281.2,986.1 L282.1,985.4 L283.1,984.7 L284.1,984.0 L285.0,983.2 L286.0,982.5 L286.9,981.7 L287.9,981.0 L288.8,980.2 L289.8,979.5 L290.7,978.7 L291.6,977.9 L292.6,977.2 L293.5,976.4 L294.4,975.6 L295.3,974.8 L296.2,974.0 L297.2,973.2 L298.1,972.4 L299.0,971.6 L299.9,970.9 L300.8,970.1 L301.7,969.3 L302.6,968.5 L303.6,967.7 L304.5,966.9 L305.4,966.1 L306.3,965.3 L307.2,964.5 L308.1,963.7 L309.0,962.9 L310.0,962.1 L310.9,961.3 L311.8,960.5 L312.7,959.7 L313.5,958.9 L314.4,958.1 L315.3,957.3 L316.2,956.4 L317.1,955.6 L318.0,954.8 L318.8,953.9 L319.7,953.1 L320.6,952.3 L321.4,951.4 L322.3,950.6 L323.2,949.7 L324.1,948.9 L324.9,948.1 L325.8,947.2 L326.7,946.4 L327.5,945.6 L328.4,944.7 L329.3,943.9 L330.2,943.0 L331.0,942.2 L331.9,941.4 L332.8,940.5 L333.6,939.7 L334.5,938.8 L335.4,938.0 L336.2,937.1 L337.1,936.3 L338.0,935.5 L338.9,934.6 L339.7,933.8 L340.6,933.0 L341.5,932.1 L342.4,931.3 L343.2,930.5 L344.1,929.7 L345.0,928.8 L345.9,928.0 L346.7,927.1 L347.6,926.3 L348.5,925.4 L349.3,924.6 L350.2,923.7 L351.0,922.8 L351.8,922.0 L352.7,921.1 L353.5,920.2 L354.3,919.3 L355.1,918.4 L356.0,917.6 L356.8,916.7 L357.6,915.8 L358.5,914.9 L359.3,914.1 L360.2,913.2 L361.0,912.4 L361.9,911.5 L362.8,910.7 L363.6,909.9 L364.5,909.0 L365.4,908.2 L366.3,907.4 L367.2,906.5 L368.0,905.7 L368.9,904.8 L369.8,904.0 L370.6,903.2 L371.5,902.3 L372.3,901.5 L373.2,900.6 L374.0,899.7 L374.9,898.9 L375.7,898.0 L376.5,897.1 L377.4,896.2 L378.2,895.4 L379.1,894.5 L379.9,893.6 L380.7,892.8 L381.6,891.9 L382.5,891.0 L383.3,890.2 L384.2,889.3 L385.0,888.5 L385.9,887.7 L386.8,886.8 L387.6,886.0 L388.5,885.1 L389.4,884.3 L390.3,883.5 L391.1,882.6 L392.0,881.8 L392.9,881.0 L393.8,880.1 L394.6,879.3 L395.5,878.4 L396.4,877.6 L397.2,876.8 L398.1,875.9 L399.0,875.1 L399.8,874.2 L400.7,873.4 L401.6,872.5 L402.5,871.7 L403.3,870.9 L404.2,870.1 L405.1,869.3 L406.0,868.5 L406.9,867.7 L407.9,866.9 L408.8,866.1 L409.7,865.3 L410.7,864.6 L411.6,863.8 L412.5,863.1 L413.5,862.3 L414.5,861.6 L415.4,860.8 L416.4,860.1 L417.3,859.4 L418.3,858.7 L419.3,857.9 L420.3,857.2 L421.2,856.5 L422.2,855.8 L423.2,855.1 L424.2,854.4 L425.2,853.8 L426.2,853.1 L427.2,852.4 L428.3,851.8 L429.3,851.2 L430.4,850.6 L431.4,850.0 L432.5,849.4 L433.6,848.9 L434.6,848.3 L435.7,847.7 L436.7,847.1 L437.8,846.5 L438.8,845.9 L439.9,845.3 L440.9,844.7 L442.0,844.1 L443.0,843.5 L444.1,842.9 L445.1,842.3 L446.2,841.8 L447.3,841.3 L448.4,840.7 L449.5,840.3 L450.6,839.8 L451.7,839.3 L452.9,838.8 L454.0,838.4 L455.1,838.0 L456.3,837.6 L457.4,837.2 L458.6,836.8 L459.7,836.5 L460.9,836.1 L462.0,835.8 L463.2,835.5 L464.4,835.1 L465.5,834.8 L466.7,834.5 L467.9,834.2 L469.1,833.9 L470.2,833.7 L471.4,833.6 L472.6,833.4 L473.8,833.3 L475.0,833.2 L476.2,833.1 L477.5,833.0 L478.7,832.9 L479.9,832.8 L481.1,832.7 L482.3,832.6 L483.5,832.5 L484.7,832.4 L485.9,832.3 L487.1,832.3 L488.3,832.3 L489.5,832.2 L490.7,832.2 L491.9,832.2 L493.1,832.2 L494.4,832.1 L495.6,832.1 L496.8,832.1 L498.0,832.1 L499.2,832.1 L500.4,832.1 L501.6,832.0 L502.8,832.0 L504.0,831.9 L505.2,831.9 L506.4,831.8 L507.7,831.8 L508.9,831.7 L510.1,831.7 L511.3,831.6 L512.5,831.5 L513.7,831.4 L514.9,831.4 L516.1,831.3 L517.3,831.2 L518.5,831.1 L519.7,831.0 L520.9,830.9 L522.1,830.8 L523.3,830.7 L524.5,830.6 L525.7,830.5 L526.9,830.4 L528.1,830.2 L529.4,830.1 L530.6,830.0 L531.8,829.9 L533.0,829.8 L534.2,829.7 L535.4,829.6 L536.6,829.5 L537.8,829.4 L539.0,829.3 L540.2,829.2 L541.4,829.1 L542.6,829.0 L543.8,828.9 L545.0,828.8 L546.2,828.8 L547.4,828.7 L548.6,828.6 L549.8,828.5 L551.1,828.4 L552.3,828.4 L553.5,828.3 L554.7,828.2 L555.9,828.1 L557.1,828.1 L558.3,828.0 L559.5,827.9 L560.7,827.8 L561.9,827.8 L563.1,827.7 L564.3,827.7 L565.5,827.6 L566.7,827.6 L568.0,827.6 L569.2,827.6 L570.4,827.6 L571.6,827.6 L572.8,827.6 L574.0,827.6 L575.2,827.6 L576.4,827.6 L577.6,827.7 L578.8,827.8 L580.0,827.9 L581.2,828.0 L582.4,828.2 L583.6,828.3 L584.8,828.5 L586.0,828.6 L587.2,828.7 L588.4,828.9 L589.6,829.0 L590.8,829.2 L592.0,829.4 L593.2,829.6 L594.4,829.7 L595.6,829.9 L596.8,830.1 L598.0,830.4 L599.2,830.6 L600.4,830.9 L601.5,831.2 L602.7,831.6 L603.8,831.9 L605.0,832.3 L606.1,832.7 L607.3,833.1 L608.4,833.5 L609.6,833.9 L610.7,834.2 L611.9,834.6 L613.0,834.9 L614.2,835.3 L615.3,835.6 L616.5,836.0 L617.6,836.4 L618.8,836.8 L619.9,837.2 L621.1,837.6 L622.2,838.1 L623.3,838.5 L624.4,839.0 L625.5,839.4 L626.7,839.9 L627.8,840.4 L628.8,840.9 L629.9,841.5 L631.0,842.0 L632.1,842.5 L633.2,843.1 L634.3,843.7 L635.3,844.2 L636.4,844.9 L637.4,845.5 L638.4,846.2 L639.4,846.9 L640.3,847.6 L641.2,848.4 L642.2,849.2 L643.0,850.0 L643.9,850.9 L644.7,851.8 L645.5,852.7 L646.3,853.6 L647.1,854.5 L647.8,855.5 L648.6,856.5 L649.3,857.4 L650.0,858.4 L650.6,859.4 L651.3,860.4 L651.9,861.5 L652.5,862.5 L653.1,863.6 L653.7,864.6 L654.3,865.7 L654.9,866.8 L655.4,867.8 L655.9,868.9 L656.4,870.0 L656.9,871.1 L657.4,872.3 L657.8,873.4 L658.3,874.5 L658.7,875.6 L659.1,876.8 L659.5,877.9 L659.9,879.1 L660.3,880.2 L660.8,881.3 L661.2,882.4 L661.6,883.6 L662.1,884.7 L662.5,885.8 L662.9,887.0 L663.2,888.1 L663.6,889.3 L663.9,890.5 L664.3,891.6 L664.6,892.8 L664.9,893.9 L665.3,895.1 L665.6,896.3 L665.9,897.4 L666.2,898.6 L666.5,899.8 L666.8,901.0 L667.1,902.1 L667.4,903.3 L667.7,904.5 L668.0,905.6 L668.3,906.8 L668.6,908.0 L668.8,909.2 L669.1,910.3 L669.4,911.5 L669.6,912.7 L669.8,913.9 L670.1,915.1 L670.3,916.3 L670.5,917.5 L670.8,918.6 L671.0,919.8 L671.3,921.0 L671.5,922.2 L671.8,923.4 L672.0,924.6 L672.3,925.7 L672.5,926.9 L672.8,928.1 L673.0,929.3 L673.2,930.5 L673.4,931.7 L673.6,932.9 L673.9,934.1 L674.1,935.2 L674.3,936.4 L674.5,937.6 L674.7,938.8 L674.9,940.0 L675.1,941.2 L675.3,942.4 L675.5,943.6 L675.7,944.8 L675.8,946.0 L676.0,947.2 L676.2,948.4 L676.4,949.6 L676.5,950.8 L676.7,952.0 L676.8,953.2 L677.0,954.4 L677.1,955.6 L677.2,956.8 L677.4,958.0 L677.5,959.2 L677.7,960.4 L677.8,961.6 L678.0,962.8 L678.2,964.0 L678.3,965.2 L678.5,966.4 L678.7,967.6 L678.9,968.8 L679.1,969.9 L679.3,971.1 L679.6,972.3 L679.8,973.5 L680.0,974.7 L680.1,975.9 L680.3,977.1 L680.5,978.3 L680.6,979.5 L680.8,980.7 L680.9,981.9 L681.1,983.1 L681.3,984.3 L681.5,985.5 L681.7,986.7 L682.0,987.9 L682.2,989.0 L682.4,990.2 L682.6,991.4 L682.8,992.6 L682.9,993.8 L683.1,995.0 L683.3,996.2 L683.5,997.4 L683.6,998.6 L683.8,999.8" fill="none" stroke="#006400" stroke-width="4.1" stroke-dasharray="4.15 4.08"/>
<path d="M115.4,765.6 L116.9,766.2 L118.4,766.8 L120.0,767.4 L121.5,767.9 L123.0,768.5 L124.5,769.1 L126.0,769.7 L127.6,770.3 L129.1,770.8 L130.6,771.3 L132.2,771.9 L133.7,772.4 L135.3,772.9 L136.8,773.3 L138.4,773.8 L139.9,774.3 L141.5,774.7 L143.1,775.2 L144.6,775.6 L146.2,776.0 L147.8,776.4 L149.3,776.8 L150.9,777.3 L152.5,777.6 L154.1,778.0 L155.7,778.4 L157.3,778.8 L158.8,779.1 L160.4,779.5 L162.0,779.8 L163.6,780.1 L165.2,780.4 L166.8,780.7 L168.4,780.9 L170.0,781.2 L171.7,781.4 L173.3,781.6 L174.9,781.9 L176.5,782.1 L178.1,782.3 L179.7,782.5 L181.3,782.7 L183.0,782.9 L184.6,783.0 L186.2,783.2 L187.8,783.4 L189.4,783.5 L191.0,783.7 L192.7,783.8 L194.3,784.0 L195.9,784.1 L197.5,784.3 L199.1,784.4 L200.8,784.6 L202.4,784.7 L204.0,784.9 L205.6,785.0 L207.3,785.1 L208.9,785.2 L210.5,785.2 L212.1,785.3 L213.8,785.3 L215.4,785.3 L217.0,785.4 L218.6,785.4 L220.3,785.4 L221.9,785.4 L223.5,785.4 L225.1,785.5 L226.8,785.5 L228.4,785.5 L230.0,785.5 L231.7,785.5 L233.3,785.5 L234.9,785.5 L236.5,785.5 L238.2,785.5 L239.8,785.5 L241.4,785.5 L243.0,785.5 L244.7,785.6 L246.3,785.6 L247.9,785.6 L249.6,785.6 L251.2,785.6 L252.8,785.6 L254.4,785.6 L256.1,785.6 L257.7,785.6 L259.3,785.6 L260.9,785.6 L262.6,785.6 L264.2,785.6 L265.8,785.6 L267.4,785.6 L269.1,785.6 L270.7,785.7 L272.3,785.7 L274.0,785.7 L275.6,785.7 L277.2,785.7 L278.8,785.7 L280.5,785.7 L282.1,785.7 L283.7,785.8 L285.3,785.8 L287.0,785.8 L288.6,785.8 L290.2,785.8 L291.8,785.8 L293.5,785.8 L295.1,785.9 L296.7,785.9 L298.4,785.9 L300.0,785.9 L301.6,785.9 L303.2,785.9 L304.9,786.0 L306.5,786.0 L308.1,786.0 L309.7,786.0 L311.4,786.0 L313.0,786.1 L314.6,786.1 L316.3,786.1 L317.9,786.1 L319.5,786.2 L321.1,786.2 L322.8,786.2 L324.4,786.3 L326.0,786.3 L327.6,786.3 L329.3,786.3 L330.9,786.4 L332.5,786.4 L334.1,786.4 L335.8,786.4 L337.4,786.5 L339.0,786.5 L340.7,786.5 L342.3,786.5 L343.9,786.6 L345.5,786.6 L347.2,786.6 L348.8,786.6 L350.4,786.7 L352.0,786.7 L353.7,786.7 L355.3,786.7 L356.9,786.8 L358.5,786.8 L360.2,786.8 L361.8,786.9 L363.4,786.9 L365.1,786.9 L366.7,787.0 L368.3,787.0 L369.9,787.0 L371.6,787.0 L373.2,787.1 L374.8,787.1 L376.4,787.1 L378.1,787.2 L379.7,787.2 L381.3,787.2 L382.9,787.2 L384.6,787.3 L386.2,787.3 L387.8,787.3 L389.5,787.3 L391.1,787.4 L392.7,787.4 L394.3,787.4 L396.0,787.4 L397.6,787.5 L399.2,787.5 L400.8,787.5 L402.5,787.5 L404.1,787.5 L405.7,787.5 L407.3,787.6 L409.0,787.6 L410.6,787.6 L412.2,787.6 L413.9,787.6 L415.5,787.6 L417.1,787.6 L418.7,787.6 L420.4,787.6 L422.0,787.6 L423.6,787.6 L425.2,787.6 L426.9,787.6 L428.5,787.6 L430.1,787.6 L431.7,787.5 L433.4,787.5 L435.0,787.5 L436.6,787.5 L438.3,787.5 L439.9,787.5 L441.5,787.4 L443.1,787.4 L444.8,787.4 L446.4,787.4 L448.0,787.3 L449.6,787.3 L451.3,787.3 L452.9,787.3 L454.5,787.2 L456.1,787.2 L457.8,787.2 L459.4,787.1 L461.0,787.1 L462.7,787.1 L464.3,787.0 L465.9,787.0 L467.5,787.0 L469.2,786.9 L470.8,786.9 L472.4,786.8 L474.0,786.7 L475.7,786.7 L477.3,786.6 L478.9,786.5 L480.5,786.4 L482.2,786.3 L483.8,786.1 L485.4,786.0 L487.0,785.9 L488.6,785.7 L490.3,785.6 L491.9,785.4 L493.5,785.2 L495.1,785.0 L496.7,784.8 L498.3,784.6 L500.0,784.4 L501.6,784.1 L503.2,783.9 L504.8,783.6 L506.4,783.3 L508.0,783.0 L509.6,782.7 L511.2,782.4 L512.8,782.0 L514.3,781.7 L515.9,781.3 L517.5,780.9 L519.1,780.5 L520.7,780.1 L522.2,779.7 L523.8,779.3 L525.4,778.8 L526.9,778.4 L528.5,777.9 L530.0,777.4 L531.6,776.9 L533.1,776.4 L534.7,775.9 L536.2,775.4 L537.8,774.8 L539.3,774.3 L540.9,773.8 L542.4,773.3 L543.9,772.8 L545.5,772.2 L547.0,771.7 L548.5,771.1 L550.0,770.5 L551.6,769.9 L553.0,769.3 L554.5,768.6 L556.0,767.9 L557.5,767.2 L558.9,766.5 L560.4,765.8 L561.8,765.0 L563.3,764.3 L564.7,763.5 L566.2,762.7 L567.6,762.0 L569.0,761.2 L570.4,760.4 L571.8,759.6 L573.3,758.8 L574.7,757.9 L576.1,757.1 L577.4,756.2 L578.8,755.3 L580.2,754.5 L581.5,753.6 L582.9,752.6 L584.2,751.7 L585.6,750.8 L586.9,749.8 L588.2,748.9 L589.5,747.9 L590.8,746.8 L592.0,745.8 L593.2,744.7 L594.3,743.6 L595.4,742.4 L596.5,741.1 L597.5,739.9 L598.6,738.6 L599.7,737.4 L600.8,736.2 L601.8,735.0 L602.9,733.8 L604.0,732.5 L605.1,731.3 L606.1,730.1 L607.2,728.8 L608.2,727.6 L609.2,726.3 L610.1,725.0 L611.0,723.6 L611.8,722.2 L612.6,720.8 L613.4,719.3 L614.3,718.0 L615.1,716.6 L616.0,715.2 L616.8,713.8 L617.7,712.4 L618.5,711.0 L619.2,709.5 L619.9,708.1 L620.7,706.6 L621.4,705.2 L622.1,703.7 L622.8,702.2 L623.4,700.7 L624.1,699.3 L624.8,697.8 L625.4,696.3 L626.1,694.8 L626.7,693.3 L627.3,691.8 L627.9,690.3 L628.6,688.8 L629.2,687.3 L629.8,685.8 L630.4,684.3 L631.0,682.8 L631.6,681.2 L632.2,679.7 L632.8,678.2 L633.4,676.7 L633.9,675.2 L634.5,673.6 L635.0,672.1 L635.6,670.6 L636.1,669.0 L636.6,667.5 L637.1,665.9 L637.6,664.4 L638.1,662.8 L638.6,661.3 L639.1,659.7 L639.5,658.2 L640.0,656.6 L640.4,655.0 L640.8,653.5 L641.3,651.9 L641.7,650.3 L642.1,648.7 L642.5,647.2 L642.9,645.6 L643.3,644.0 L643.8,642.5 L644.2,640.9 L644.6,639.3 L645.1,637.8 L645.5,636.2 L646.0,634.6 L646.4,633.1 L646.9,631.5 L647.3,629.9 L647.8,628.4 L648.2,626.8 L648.6,625.2 L649.1,623.7 L649.5,622.1 L650.0,620.5 L650.4,619.0 L650.9,617.4 L651.3,615.8 L651.7,614.3 L652.1,612.7 L652.5,611.1 L652.9,609.5 L653.3,607.9 L653.6,606.4 L654.0,604.8 L654.3,603.2 L654.7,601.6 L655.0,600.0" fill="none" stroke="#ff0000" stroke-width="4.1" stroke-dasharray="4.2 5.5 1.1 5.52" stroke-dashoffset="1.6"/>
<path d="M115.4,836.2 L116.9,835.6 L118.4,835.0 L120.0,834.4 L121.5,833.9 L123.0,833.3 L124.5,832.7 L126.0,832.1 L127.6,831.5 L129.1,831.0 L130.6,830.5 L132.2,829.9 L133.7,829.4 L135.3,828.9 L136.8,828.5 L138.4,828.0 L139.9,827.5 L141.5,827.1 L143.1,826.6 L144.6,826.2 L146.2,825.8 L147.8,825.4 L149.3,825.0 L150.9,824.5 L152.5,824.2 L154.1,823.8 L155.7,823.4 L157.3,823.0 L158.8,822.7 L160.4,822.3 L162.0,822.0 L163.6,821.7 L165.2,821.4 L166.8,821.1 L168.4,820.9 L170.0,820.6 L171.7,820.4 L173.3,820.2 L174.9,819.9 L176.5,819.7 L178.1,819.5 L179.7,819.3 L181.3,819.1 L183.0,818.9 L184.6,818.8 L186.2,818.6 L187.8,818.4 L189.4,818.3 L191.0,818.1 L192.7,818.0 L194.3,817.8 L195.9,817.7 L197.5,817.5 L199.1,817.4 L200.8,817.2 L202.4,817.1 L204.0,816.9 L205.6,816.8 L207.3,816.7 L208.9,816.6 L210.5,816.6 L212.1,816.5 L213.8,816.5 L215.4,816.5 L217.0,816.4 L218.6,816.4 L220.3,816.4 L221.9,816.4 L223.5,816.4 L225.1,816.3 L226.8,816.3 L228.4,816.3 L230.0,816.3 L231.7,816.3 L233.3,816.3 L234.9,816.3 L236.5,816.3 L238.2,816.3 L239.8,816.3 L241.4,816.3 L243.0,816.3 L244.7,816.2 L246.3,816.2 L247.9,816.2 L249.6,816.2 L251.2,816.2 L252.8,816.2 L254.4,816.2 L256.1,816.2 L257.7,816.2 L259.3,816.2 L260.9,816.2 L262.6,816.2 L264.2,816.2 L265.8,816.2 L267.4,816.2 L269.1,816.2 L270.7,816.1 L272.3,816.1 L274.0,816.1 L275.6,816.1 L277.2,816.1 L278.8,816.1 L280.5,816.1 L282.1,816.1 L283.7,816.0 L285.3,816.0 L287.0,816.0 L288.6,816.0 L290.2,816.0 L291.8,816.0 L293.5,816.0 L295.1,815.9 L296.7,815.9 L298.4,815.9 L300.0,815.9 L301.6,815.9 L303.2,815.9 L304.9,815.8 L306.5,815.8 L308.1,815.8 L309.7,815.8 L311.4,815.8 L313.0,815.7 L314.6,815.7 L316.3,815.7 L317.9,815.7 L319.5,815.6 L321.1,815.6 L322.8,815.6 L324.4,815.5 L326.0,815.5 L327.6,815.5 L329.3,815.5 L330.9,815.4 L332.5,815.4 L334.1,815.4 L335.8,815.4 L337.4,815.3 L339.0,815.3 L340.7,815.3 L342.3,815.3 L343.9,815.2 L345.5,815.2 L347.2,815.2 L348.8,815.2 L350.4,815.1 L352.0,815.1 L353.7,815.1 L355.3,815.1 L356.9,815.0 L358.5,815.0 L360.2,815.0 L361.8,814.9 L363.4,814.9 L365.1,814.9 L366.7,814.8 L368.3,814.8 L369.9,814.8 L371.6,814.8 L373.2,814.7 L374.8,814.7 L376.4,814.7 L378.1,814.6 L379.7,814.6 L381.3,814.6 L382.9,814.6 L384.6,814.5 L386.2,814.5 L387.8,814.5 L389.5,814.5 L391.1,814.4 L392.7,814.4 L394.3,814.4 L396.0,814.4 L397.6,814.3 L399.2,814.3 L400.8,814.3 L402.5,814.3 L404.1,814.3 L405.7,814.3 L407.3,814.2 L409.0,814.2 L410.6,814.2 L412.2,814.2 L413.9,814.2 L415.5,814.2 L417.1,814.2 L418.7,814.2 L420.4,814.2 L422.0,814.2 L423.6,814.2 L425.2,814.2 L426.9,814.2 L428.5,814.2 L430.1,814.2 L431.7,814.3 L433.4,814.3 L435.0,814.3 L436.6,814.3 L438.3,814.3 L439.9,814.3 L441.5,814.4 L443.1,814.4 L444.8,814.4 L446.4,814.4 L448.0,814.5 L449.6,814.5 L451.3,814.5 L452.9,814.5 L454.5,814.6 L456.1,814.6 L457.8,814.6 L459.4,814.7 L461.0,814.7 L462.7,814.7 L464.3,814.8 L465.9,814.8 L467.5,814.8 L469.2,814.9 L470.8,814.9 L472.4,815.0 L474.0,815.1 L475.7,815.1 L477.3,815.2 L478.9,815.3 L480.5,815.4 L482.2,815.5 L483.8,815.7 L485.4,815.8 L487.0,815.9 L488.6,816.1 L490.3,816.2 L491.9,816.4 L493.5,816.6 L495.1,816.8 L496.7,817.0 L498.3,817.2 L500.0,817.4 L501.6,817.7 L503.2,817.9 L504.8,818.2 L506.4,818.5 L508.0,818.8 L509.6,819.1 L511.2,819.4 L512.8,819.8 L514.3,820.1 L515.9,820.5 L517.5,820.9 L519.1,821.3 L520.7,821.7 L522.2,822.1 L523.8,822.5 L525.4,823.0 L526.9,823.4 L528.5,823.9 L530.0,824.4 L531.6,824.9 L533.1,825.4 L534.7,825.9 L536.2,826.4 L537.8,827.0 L539.3,827.5 L540.9,828.0 L542.4,828.5 L543.9,829.0 L545.5,829.6 L547.0,830.1 L548.5,830.7 L550.0,831.3 L551.6,831.9 L553.0,832.5 L554.5,833.2 L556.0,833.9 L557.5,834.6 L558.9,835.3 L560.4,836.0 L561.8,836.8 L563.3,837.5 L564.7,838.3 L566.2,839.1 L567.6,839.8 L569.0,840.6 L570.4,841.4 L571.8,842.2 L573.3,843.0 L574.7,843.9 L576.1,844.7 L577.4,845.6 L578.8,846.5 L580.2,847.3 L581.5,848.2 L582.9,849.2 L584.2,850.1 L585.6,851.0 L586.9,852.0 L588.2,852.9 L589.5,853.9 L590.8,855.0 L592.0,856.0 L593.2,857.1 L594.3,858.2 L595.4,859.4 L596.5,860.7 L597.5,861.9 L598.6,863.2 L599.7,864.4 L600.8,865.6 L601.8,866.8 L602.9,868.0 L604.0,869.3 L605.1,870.5 L606.1,871.7 L607.2,873.0 L608.2,874.2 L609.2,875.5 L610.1,876.8 L611.0,878.2 L611.8,879.6 L612.6,881.0 L613.4,882.5 L614.3,883.8 L615.1,885.2 L616.0,886.6 L616.8,888.0 L617.7,889.4 L618.5,890.8 L619.2,892.3 L619.9,893.7 L620.7,895.2 L621.4,896.6 L622.1,898.1 L622.8,899.6 L623.4,901.1 L624.1,902.5 L624.8,904.0 L625.4,905.5 L626.1,907.0 L626.7,908.5 L627.3,910.0 L627.9,911.5 L628.6,913.0 L629.2,914.5 L629.8,916.0 L630.4,917.5 L631.0,919.0 L631.6,920.6 L632.2,922.1 L632.8,923.6 L633.4,925.1 L633.9,926.6 L634.5,928.2 L635.0,929.7 L635.6,931.2 L636.1,932.8 L636.6,934.3 L637.1,935.9 L637.6,937.4 L638.1,939.0 L638.6,940.5 L639.1,942.1 L639.5,943.6 L640.0,945.2 L640.4,946.8 L640.8,948.3 L641.3,949.9 L641.7,951.5 L642.1,953.1 L642.5,954.6 L642.9,956.2 L643.3,957.8 L643.8,959.3 L644.2,960.9 L644.6,962.5 L645.1,964.0 L645.5,965.6 L646.0,967.2 L646.4,968.7 L646.9,970.3 L647.3,971.9 L647.8,973.4 L648.2,975.0 L648.6,976.6 L649.1,978.1 L649.5,979.7 L650.0,981.3 L650.4,982.8 L650.9,984.4 L651.3,986.0 L651.7,987.5 L652.1,989.1 L652.5,990.7 L652.9,992.3 L653.3,993.9 L653.6,995.4 L654.0,997.0 L654.3,998.6 L654.7,1000.2 L655.0,1001.8" fill="none" stroke="#ff0000" stroke-width="4.1" stroke-dasharray="4.2 5.5 1.1 5.52" stroke-dashoffset="1.6"/>
</g>
<path d="M115.3,605.40 h17.3 M692.4,605.40 h-17.3 M115.3,615.17 h9.0 M692.4,615.17 h-9.0 M115.3,624.94 h9.0 M692.4,624.94 h-9.0 M115.3,634.72 h9.0 M692.4,634.72 h-9.0 M115.3,644.49 h17.3 M692.4,644.49 h-17.3 M115.3,654.26 h9.0 M692.4,654.26 h-9.0 M115.3,664.03 h9.0 M692.4,664.03 h-9.0 M115.3,673.81 h9.0 M692.4,673.81 h-9.0 M115.3,683.58 h17.3 M692.4,683.58 h-17.3 M115.3,693.35 h9.0 M692.4,693.35 h-9.0 M115.3,703.12 h9.0 M692.4,703.12 h-9.0 M115.3,712.90 h9.0 M692.4,712.90 h-9.0 M115.3,722.67 h17.3 M692.4,722.67 h-17.3 M115.3,732.44 h9.0 M692.4,732.44 h-9.0 M115.3,742.21 h9.0 M692.4,742.21 h-9.0 M115.3,751.99 h9.0 M692.4,751.99 h-9.0 M115.3,761.76 h17.3 M692.4,761.76 h-17.3 M115.3,771.53 h9.0 M692.4,771.53 h-9.0 M115.3,781.30 h9.0 M692.4,781.30 h-9.0 M115.3,791.08 h9.0 M692.4,791.08 h-9.0 M115.3,800.85 h17.3 M692.4,800.85 h-17.3 M115.3,810.62 h9.0 M692.4,810.62 h-9.0 M115.3,820.39 h9.0 M692.4,820.39 h-9.0 M115.3,830.17 h9.0 M692.4,830.17 h-9.0 M115.3,839.94 h17.3 M692.4,839.94 h-17.3 M115.3,849.71 h9.0 M692.4,849.71 h-9.0 M115.3,859.48 h9.0 M692.4,859.48 h-9.0 M115.3,869.26 h9.0 M692.4,869.26 h-9.0 M115.3,879.03 h17.3 M692.4,879.03 h-17.3 M115.3,888.80 h9.0 M692.4,888.80 h-9.0 M115.3,898.57 h9.0 M692.4,898.57 h-9.0 M115.3,908.35 h9.0 M692.4,908.35 h-9.0 M115.3,918.12 h17.3 M692.4,918.12 h-17.3 M115.3,927.89 h9.0 M692.4,927.89 h-9.0 M115.3,937.66 h9.0 M692.4,937.66 h-9.0 M115.3,947.44 h9.0 M692.4,947.44 h-9.0 M115.3,957.21 h17.3 M692.4,957.21 h-17.3 M115.3,966.98 h9.0 M692.4,966.98 h-9.0 M115.3,976.75 h9.0 M692.4,976.75 h-9.0 M115.3,986.53 h9.0 M692.4,986.53 h-9.0 M115.3,996.30 h17.3 M692.4,996.30 h-17.3 M115.30,996.3 v-11.2 M115.30,605.4 v11.2 M151.15,996.3 v-5.6 M151.15,605.4 v5.6 M172.13,996.3 v-5.6 M172.13,605.4 v5.6 M187.01,996.3 v-5.6 M187.01,605.4 v5.6 M198.55,996.3 v-5.6 M198.55,605.4 v5.6 M207.98,996.3 v-5.6 M207.98,605.4 v5.6 M215.95,996.3 v-5.6 M215.95,605.4 v5.6 M222.86,996.3 v-5.6 M222.86,605.4 v5.6 M228.95,996.3 v-5.6 M228.95,605.4 v5.6 M234.40,996.3 v-11.2 M234.40,605.4 v11.2 M270.25,996.3 v-5.6 M270.25,605.4 v5.6 M291.22,996.3 v-5.6 M291.22,605.4 v5.6 M306.10,996.3 v-5.6 M306.10,605.4 v5.6 M317.65,996.3 v-5.6 M317.65,605.4 v5.6 M327.08,996.3 v-5.6 M327.08,605.4 v5.6 M335.05,996.3 v-5.6 M335.05,605.4 v5.6 M341.96,996.3 v-5.6 M341.96,605.4 v5.6 M348.05,996.3 v-5.6 M348.05,605.4 v5.6 M353.50,996.3 v-11.2 M353.50,605.4 v11.2 M389.35,996.3 v-5.6 M389.35,605.4 v5.6 M410.32,996.3 v-5.6 M410.32,605.4 v5.6 M425.20,996.3 v-5.6 M425.20,605.4 v5.6 M436.75,996.3 v-5.6 M436.75,605.4 v5.6 M446.18,996.3 v-5.6 M446.18,605.4 v5.6 M454.15,996.3 v-5.6 M454.15,605.4 v5.6 M461.06,996.3 v-5.6 M461.06,605.4 v5.6 M467.15,996.3 v-5.6 M467.15,605.4 v5.6 M472.60,996.3 v-11.2 M472.60,605.4 v11.2 M508.45,996.3 v-5.6 M508.45,605.4 v5.6 M529.42,996.3 v-5.6 M529.42,605.4 v5.6 M544.30,996.3 v-5.6 M544.30,605.4 v5.6 M555.85,996.3 v-5.6 M555.85,605.4 v5.6 M565.28,996.3 v-5.6 M565.28,605.4 v5.6 M573.25,996.3 v-5.6 M573.25,605.4 v5.6 M580.16,996.3 v-5.6 M580.16,605.4 v5.6 M586.25,996.3 v-5.6 M586.25,605.4 v5.6 M591.70,996.3 v-11.2 M591.70,605.4 v11.2 M627.55,996.3 v-5.6 M627.55,605.4 v5.6 M648.52,996.3 v-5.6 M648.52,605.4 v5.6 M663.40,996.3 v-5.6 M663.40,605.4 v5.6 M674.95,996.3 v-5.6 M674.95,605.4 v5.6 M684.38,996.3 v-5.6 M684.38,605.4 v5.6 M692.35,996.3 v-5.6 M692.35,605.4 v5.6" stroke="#000" stroke-width="1.25" fill="none"/>
<rect x="115.3" y="605.4" width="577.1" height="390.9" fill="none" stroke="#000" stroke-width="1.4"/>
<rect x="230.5" y="631.25" width="346.7" height="78.2" fill="#fff" stroke="#000" stroke-width="1.05"/>
<rect x="243.4" y="634.5" width="60.9" height="13.2" fill="#ffff00"/>
<line x1="243.4" x2="304.3" y1="641.2" y2="641.2" stroke="#000" stroke-width="1.9"/>
<line x1="243.4" x2="304.3" y1="660.5" y2="660.5" stroke="#006400" stroke-width="4.1" stroke-dasharray="4.15 4.08"/>
<line x1="243.4" x2="304.3" y1="680.2" y2="680.2" stroke="#ff0000" stroke-width="4.1" stroke-dasharray="4.2 5.5 1.1 5.52"/>
<g clip-path="url(#lg)"><path d="M240.00,678.51 L308.00,610.30 M240.00,688.31 L308.00,620.11 M240.00,698.12 L308.00,629.92 M240.00,707.93 L308.00,639.72 M240.00,717.73 L308.00,649.53 M240.00,727.54 L308.00,659.34 M240.00,737.35 L308.00,669.14 M240.00,747.15 L308.00,678.95 M240.00,756.96 L308.00,688.75 M240.00,766.76 L308.00,698.56 M240.00,776.57 L308.00,708.37 M240.00,786.38 L308.00,718.17 M240.00,796.18 L308.00,727.98" stroke="#0000ff" stroke-width="1.3" fill="none"/></g>
<rect x="243.5" y="692.9" width="60.9" height="13.9" fill="none" stroke="#0000ff" stroke-width="1.3"/>
<text x="317.2" y="646.2" font-family="Liberation Sans, sans-serif" font-weight="bold" font-size="15.44">Global fit, n = 28 params.</text>
<text x="317.2" y="666.0" font-family="Liberation Sans, sans-serif" font-weight="bold" font-size="15.44">No HERA, n = 28 params.</text>
<text x="317.2" y="685.5" font-family="Liberation Sans, sans-serif" font-weight="bold" font-size="15.44">Only HERA, n = 26 params.</text>
<text x="317.2" y="704.7" font-family="Liberation Sans, sans-serif" font-weight="bold" font-size="15.44">Collider fit, n = 26 params.</text>
<text x="183.8" y="592" font-family="Liberation Sans, sans-serif" font-weight="bold" font-size="24.3">Gluon distribution at Q<tspan font-size="17" dy="-11.7">2</tspan><tspan dy="13.5"> = </tspan><tspan dy="-1.8">10</tspan><tspan font-size="17" dy="-11.2">4</tspan><tspan dy="11.2"> GeV</tspan><tspan font-size="17" dy="-11.7">2</tspan></text>
<text x="110.6" y="614.4" text-anchor="end" font-family="Liberation Sans, sans-serif" font-weight="bold" font-size="19.9">10</text>
<text x="110.6" y="653.4" text-anchor="end" font-family="Liberation Sans, sans-serif" font-weight="bold" font-size="19.9">8</text>
<text x="110.6" y="692.5" text-anchor="end" font-family="Liberation Sans, sans-serif" font-weight="bold" font-size="19.9">6</text>
<text x="110.6" y="731.6" text-anchor="end" font-family="Liberation Sans, sans-serif" font-weight="bold" font-size="19.9">4</text>
<text x="110.6" y="770.7" text-anchor="end" font-family="Liberation Sans, sans-serif" font-weight="bold" font-size="19.9">2</text>
<text x="110.6" y="809.8" text-anchor="end" font-family="Liberation Sans, sans-serif" font-weight="bold" font-size="19.9">0</text>
<text x="110.6" y="848.9" text-anchor="end" font-family="Liberation Sans, sans-serif" font-weight="bold" font-size="19.9">-2</text>
<text x="110.6" y="888.0" text-anchor="end" font-family="Liberation Sans, sans-serif" font-weight="bold" font-size="19.9">-4</text>
<text x="110.6" y="927.1" text-anchor="end" font-family="Liberation Sans, sans-serif" font-weight="bold" font-size="19.9">-6</text>
<text x="110.6" y="966.2" text-anchor="end" font-family="Liberation Sans, sans-serif" font-weight="bold" font-size="19.9">-8</text>
<text x="110.6" y="1005.2" text-anchor="end" font-family="Liberation Sans, sans-serif" font-weight="bold" font-size="19.9">-10</text>
<text x="97.5" y="1023.3" font-family="Liberation Sans, sans-serif" font-weight="bold" font-size="19.75">10<tspan font-size="13.7" dy="-8.8">-5</tspan></text>
<text x="216.6" y="1023.3" font-family="Liberation Sans, sans-serif" font-weight="bold" font-size="19.75">10<tspan font-size="13.7" dy="-8.8">-4</tspan></text>
<text x="335.7" y="1023.3" font-family="Liberation Sans, sans-serif" font-weight="bold" font-size="19.75">10<tspan font-size="13.7" dy="-8.8">-3</tspan></text>
<text x="454.8" y="1023.3" font-family="Liberation Sans, sans-serif" font-weight="bold" font-size="19.75">10<tspan font-size="13.7" dy="-8.8">-2</tspan></text>
<text x="573.9" y="1023.3" font-family="Liberation Sans, sans-serif" font-weight="bold" font-size="19.75">10<tspan font-size="13.7" dy="-8.8">-1</tspan></text>
<text x="677.7" y="1048.2" font-family="Liberation Sans, sans-serif" font-weight="bold" font-size="25">x</text>
<text transform="translate(58.1,885.9) rotate(-90)" font-family="Liberation Sans, sans-serif" font-weight="bold" font-size="25.43">Percentage uncertainty</text>
</svg>
</body></html>
